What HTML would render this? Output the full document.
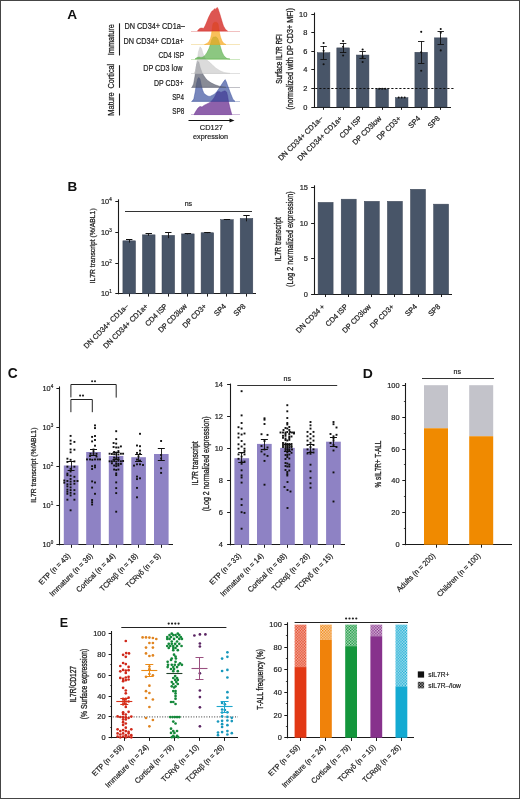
<!DOCTYPE html>
<html><head><meta charset="utf-8"><style>
html,body{margin:0;padding:0;background:#fff;}
body{width:520px;height:799px;overflow:hidden;}
svg{display:block;will-change:transform;filter:blur(0.3px);}
text{font-family:"Liberation Sans", sans-serif;}
</style></head><body>
<svg width="520" height="799" viewBox="0 0 520 799">
<rect x="0" y="0" width="520" height="799" fill="#fff"/>
<defs><pattern id="chk0" width="2.8" height="2.8" patternUnits="userSpaceOnUse"><rect width="2.8" height="2.8" fill="#f6c3b8"/><rect width="1.4" height="1.4" fill="#e23814"/><rect x="1.4" y="1.4" width="1.4" height="1.4" fill="#e23814"/></pattern><pattern id="chk1" width="2.8" height="2.8" patternUnits="userSpaceOnUse"><rect width="2.8" height="2.8" fill="#fadab6"/><rect width="1.4" height="1.4" fill="#f0820a"/><rect x="1.4" y="1.4" width="1.4" height="1.4" fill="#f0820a"/></pattern><pattern id="chk2" width="2.8" height="2.8" patternUnits="userSpaceOnUse"><rect width="2.8" height="2.8" fill="#b8e0c4"/><rect width="1.4" height="1.4" fill="#14963c"/><rect x="1.4" y="1.4" width="1.4" height="1.4" fill="#14963c"/></pattern><pattern id="chk3" width="2.8" height="2.8" patternUnits="userSpaceOnUse"><rect width="2.8" height="2.8" fill="#dbc2dc"/><rect width="1.4" height="1.4" fill="#87328c"/><rect x="1.4" y="1.4" width="1.4" height="1.4" fill="#87328c"/></pattern><pattern id="chk4" width="2.8" height="2.8" patternUnits="userSpaceOnUse"><rect width="2.8" height="2.8" fill="#b8e6f2"/><rect width="1.4" height="1.4" fill="#14aad2"/><rect x="1.4" y="1.4" width="1.4" height="1.4" fill="#14aad2"/></pattern><pattern id="chkk" width="2.8" height="2.8" patternUnits="userSpaceOnUse"><rect width="2.8" height="2.8" fill="#a0a0a0"/><rect width="1.4" height="1.4" fill="#111111"/><rect x="1.4" y="1.4" width="1.4" height="1.4" fill="#111111"/></pattern></defs>
<text x="0" y="0" font-size="12.2" font-weight="bold" fill="#111" transform="translate(67.20 18.60) scale(1.12 1)">A</text>
<text x="0" y="0" font-size="8.3" text-anchor="start" fill="#222222" stroke="#222222" stroke-width="0.2" transform="translate(124.50 29.00) scale(0.8825 1)">DN CD34+ CD1a&#8211;</text>
<text x="0" y="0" font-size="8.3" text-anchor="start" fill="#222222" stroke="#222222" stroke-width="0.2" transform="translate(123.50 43.60) scale(0.8774 1)">DN CD34+ CD1a+</text>
<text x="0" y="0" font-size="8.3" text-anchor="start" fill="#222222" stroke="#222222" stroke-width="0.2" transform="translate(158.60 57.60) scale(0.7898 1)">CD4 ISP</text>
<text x="0" y="0" font-size="8.3" text-anchor="start" fill="#222222" stroke="#222222" stroke-width="0.2" transform="translate(143.20 71.30) scale(0.8726 1)">DP CD3 low</text>
<text x="0" y="0" font-size="8.3" text-anchor="start" fill="#222222" stroke="#222222" stroke-width="0.2" transform="translate(154.10 86.00) scale(0.8374 1)">DP CD3+</text>
<text x="0" y="0" font-size="8.3" text-anchor="start" fill="#222222" stroke="#222222" stroke-width="0.2" transform="translate(172.20 99.60) scale(0.7522 1)">SP4</text>
<text x="0" y="0" font-size="8.3" text-anchor="start" fill="#222222" stroke="#222222" stroke-width="0.2" transform="translate(172.20 114.10) scale(0.7713 1)">SP8</text>
<line x1="119.50" y1="23.30" x2="119.50" y2="55.50" stroke="#1a1a1a" stroke-width="1.1"/>
<line x1="119.50" y1="65.20" x2="119.50" y2="87.80" stroke="#1a1a1a" stroke-width="1.1"/>
<line x1="119.50" y1="93.50" x2="119.50" y2="115.50" stroke="#1a1a1a" stroke-width="1.1"/>
<text x="0" y="0" font-size="8.4" text-anchor="start" fill="#222222" stroke="#222222" stroke-width="0.263" transform="translate(113.90 55.20) rotate(-90) scale(0.8745 1)">Immature</text>
<text x="0" y="0" font-size="8.4" text-anchor="start" fill="#222222" stroke="#222222" stroke-width="0.268" transform="translate(113.90 88.40) rotate(-90) scale(0.8639 1)">Cortical</text>
<text x="0" y="0" font-size="8.4" text-anchor="start" fill="#222222" stroke="#222222" stroke-width="0.25" transform="translate(113.90 115.80) rotate(-90) scale(0.8996 1)">Mature</text>
<line x1="191.00" y1="31.50" x2="240.00" y2="31.50" stroke="#eeb0b0" stroke-width="0.8"/>
<line x1="191.00" y1="44.50" x2="240.00" y2="44.50" stroke="#f4e0a8" stroke-width="0.8"/>
<line x1="191.00" y1="59.50" x2="240.00" y2="59.50" stroke="#c0e2b0" stroke-width="0.8"/>
<line x1="191.00" y1="73.50" x2="240.00" y2="73.50" stroke="#d8d8d8" stroke-width="0.8"/>
<line x1="191.00" y1="87.50" x2="240.00" y2="87.50" stroke="#b0b0b8" stroke-width="0.8"/>
<line x1="191.00" y1="101.50" x2="240.00" y2="101.50" stroke="#a8b4d0" stroke-width="0.8"/>
<line x1="191.00" y1="114.50" x2="240.00" y2="114.50" stroke="#c0a8d0" stroke-width="0.8"/>
<path d="M194.00,114.60 L194.00,114.60 L196.00,111.00 L198.00,108.00 L200.00,106.40 L202.00,107.00 L204.00,105.40 L206.00,104.40 L208.00,103.40 L210.00,102.40 L212.00,100.40 L214.00,98.00 L215.60,95.00 L217.00,92.00 L219.00,91.40 L221.00,92.40 L223.00,91.40 L225.00,90.80 L226.60,92.00 L227.60,96.00 L228.60,102.00 L230.00,108.00 L231.80,114.60 L231.80,114.60 Z" fill="#5e1e88" fill-opacity="0.7" stroke="#5e1e88" stroke-opacity="0.85" stroke-width="0.5" stroke-linejoin="round"/>
<path d="M192.00,101.30 L192.00,101.30 L193.80,99.00 L195.20,92.00 L196.40,84.00 L197.60,79.00 L198.80,77.40 L200.00,79.00 L201.00,84.00 L202.50,90.00 L204.00,93.40 L206.00,95.00 L208.00,96.20 L210.00,96.40 L212.00,95.40 L214.00,94.40 L216.00,92.80 L218.00,90.00 L220.00,87.00 L222.00,84.00 L223.60,81.60 L225.20,79.60 L226.40,82.00 L227.40,85.00 L228.60,88.00 L230.00,92.00 L231.60,96.00 L233.00,99.40 L235.00,101.30 L235.00,101.30 Z" fill="#30489a" fill-opacity="0.66" stroke="#30489a" stroke-opacity="0.85" stroke-width="0.5" stroke-linejoin="round"/>
<path d="M192.00,87.30 L192.00,87.30 L193.60,84.00 L195.00,76.00 L196.20,67.00 L197.40,61.20 L198.80,62.00 L200.20,67.50 L202.00,72.50 L204.00,76.00 L206.00,78.80 L208.00,80.80 L211.00,82.80 L215.00,84.80 L220.00,86.40 L226.00,87.30 L226.00,87.30 Z" fill="#555a6a" fill-opacity="0.7" stroke="#555a6a" stroke-opacity="0.85" stroke-width="0.5" stroke-linejoin="round"/>
<path d="M194.00,73.40 L194.00,73.40 L195.80,70.00 L197.10,62.00 L198.40,52.00 L200.10,46.80 L201.60,48.80 L202.80,53.00 L204.00,56.00 L205.00,58.40 L207.50,60.60 L210.00,62.60 L213.00,65.60 L216.00,68.20 L220.00,70.80 L224.00,72.40 L230.00,73.40 L230.00,73.40 Z" fill="#c8c8c8" fill-opacity="0.66" stroke="#c8c8c8" stroke-opacity="0.85" stroke-width="0.5" stroke-linejoin="round"/>
<path d="M195.00,59.00 L195.00,59.00 L197.00,57.60 L199.00,57.00 L201.00,57.40 L203.00,57.00 L205.00,55.40 L207.00,52.50 L209.00,48.50 L210.50,44.00 L211.80,39.50 L213.00,37.20 L216.00,36.80 L217.80,38.50 L219.00,42.00 L220.50,47.00 L222.00,52.00 L224.00,56.00 L227.00,58.60 L230.00,59.00 L230.00,59.00 Z" fill="#50aa40" fill-opacity="0.66" stroke="#50aa40" stroke-opacity="0.85" stroke-width="0.5" stroke-linejoin="round"/>
<path d="M204.50,44.50 L204.50,44.50 L207.00,43.50 L209.00,41.40 L210.50,38.50 L211.50,34.00 L212.30,28.00 L213.00,23.50 L214.50,22.20 L216.50,22.20 L218.00,23.50 L218.80,28.00 L219.60,33.00 L220.50,37.00 L222.00,41.00 L224.00,43.50 L226.00,44.50 L226.00,44.50 Z" fill="#f7a81c" fill-opacity="0.72" stroke="#f7a81c" stroke-opacity="0.85" stroke-width="0.5" stroke-linejoin="round"/>
<path d="M197.50,31.00 L197.50,31.00 L198.50,29.60 L200.00,28.30 L202.00,28.00 L203.50,28.60 L205.00,26.00 L206.30,23.00 L207.50,20.00 L208.60,17.30 L210.00,14.50 L211.20,12.20 L212.10,11.00 L213.20,10.60 L214.40,8.70 L215.20,9.40 L215.80,8.60 L216.60,8.20 L217.30,7.40 L218.20,9.00 L219.00,11.50 L220.00,14.50 L220.80,17.30 L222.50,23.00 L223.50,26.00 L224.80,28.30 L226.00,30.00 L227.50,31.00 L227.50,31.00 Z" fill="#d42a26" fill-opacity="0.8" stroke="#d42a26" stroke-opacity="0.85" stroke-width="0.5" stroke-linejoin="round"/>
<line x1="188.50" y1="120.50" x2="230.50" y2="120.50" stroke="#111" stroke-width="1.1"/>
<path d="M229.50,118.40 L234.50,120.50 L229.50,122.60 Z" fill="#111" stroke="none" stroke-width="0.6" fill-opacity="1" stroke-linejoin="round"/>
<text x="0" y="0" font-size="8.0" text-anchor="middle" fill="#222222" stroke="#222222" stroke-width="0.2" transform="translate(211.40 130.40) scale(0.93 1)">CD127</text>
<text x="0" y="0" font-size="7.9" text-anchor="middle" fill="#222222" stroke="#222222" stroke-width="0.2" transform="translate(210.60 138.60) scale(0.92 1)">expression</text>
<line x1="314.50" y1="12.50" x2="314.50" y2="107.50" stroke="#1a1a1a" stroke-width="1.1"/>
<line x1="313.80" y1="107.50" x2="451.00" y2="107.50" stroke="#1a1a1a" stroke-width="1.1"/>
<line x1="311.30" y1="107.50" x2="314.30" y2="107.50" stroke="#1a1a1a" stroke-width="1"/>
<text x="0" y="0" font-size="7.7" text-anchor="end" fill="#222222" stroke="#222222" stroke-width="0.2" transform="translate(307.40 109.50) scale(0.97 1)">0</text>
<line x1="311.30" y1="88.50" x2="314.30" y2="88.50" stroke="#1a1a1a" stroke-width="1"/>
<text x="0" y="0" font-size="7.7" text-anchor="end" fill="#222222" stroke="#222222" stroke-width="0.2" transform="translate(307.40 90.94) scale(0.97 1)">2</text>
<line x1="311.30" y1="69.50" x2="314.30" y2="69.50" stroke="#1a1a1a" stroke-width="1"/>
<text x="0" y="0" font-size="7.7" text-anchor="end" fill="#222222" stroke="#222222" stroke-width="0.2" transform="translate(307.40 72.38) scale(0.97 1)">4</text>
<line x1="311.30" y1="51.50" x2="314.30" y2="51.50" stroke="#1a1a1a" stroke-width="1"/>
<text x="0" y="0" font-size="7.7" text-anchor="end" fill="#222222" stroke="#222222" stroke-width="0.2" transform="translate(307.40 53.82) scale(0.97 1)">6</text>
<line x1="311.30" y1="32.50" x2="314.30" y2="32.50" stroke="#1a1a1a" stroke-width="1"/>
<text x="0" y="0" font-size="7.7" text-anchor="end" fill="#222222" stroke="#222222" stroke-width="0.2" transform="translate(307.40 35.26) scale(0.97 1)">8</text>
<line x1="311.30" y1="14.50" x2="314.30" y2="14.50" stroke="#1a1a1a" stroke-width="1"/>
<text x="0" y="0" font-size="7.7" text-anchor="end" fill="#222222" stroke="#222222" stroke-width="0.2" transform="translate(307.40 16.70) scale(0.97 1)">10</text>
<rect x="317.30" y="52.71" width="12.60" height="54.29" fill="#485568" stroke="#3a4454" stroke-width="0.5"/>
<line x1="323.50" y1="107.00" x2="323.50" y2="109.80" stroke="#1a1a1a" stroke-width="1"/>
<line x1="323.50" y1="59.21" x2="323.50" y2="46.22" stroke="#111" stroke-width="0.9"/>
<line x1="320.40" y1="46.50" x2="326.80" y2="46.50" stroke="#111" stroke-width="0.9"/>
<line x1="320.40" y1="59.50" x2="326.80" y2="59.50" stroke="#111" stroke-width="0.9"/>
<circle cx="323.60" cy="42.97" r="1.05" fill="#111"/>
<circle cx="323.60" cy="50.86" r="1.05" fill="#111"/>
<circle cx="323.60" cy="64.31" r="1.05" fill="#111"/>
<rect x="336.82" y="47.89" width="12.60" height="59.11" fill="#485568" stroke="#3a4454" stroke-width="0.5"/>
<line x1="343.50" y1="107.00" x2="343.50" y2="109.80" stroke="#1a1a1a" stroke-width="1"/>
<line x1="343.50" y1="52.53" x2="343.50" y2="43.25" stroke="#111" stroke-width="0.9"/>
<line x1="339.92" y1="43.50" x2="346.32" y2="43.50" stroke="#111" stroke-width="0.9"/>
<line x1="339.92" y1="52.50" x2="346.32" y2="52.50" stroke="#111" stroke-width="0.9"/>
<circle cx="343.12" cy="41.11" r="1.05" fill="#111"/>
<circle cx="343.12" cy="46.68" r="1.05" fill="#111"/>
<circle cx="343.12" cy="55.50" r="1.05" fill="#111"/>
<rect x="356.34" y="55.03" width="12.60" height="51.97" fill="#485568" stroke="#3a4454" stroke-width="0.5"/>
<line x1="362.50" y1="107.00" x2="362.50" y2="109.80" stroke="#1a1a1a" stroke-width="1"/>
<line x1="362.50" y1="58.74" x2="362.50" y2="51.32" stroke="#111" stroke-width="0.9"/>
<line x1="359.44" y1="51.50" x2="365.84" y2="51.50" stroke="#111" stroke-width="0.9"/>
<line x1="359.44" y1="58.50" x2="365.84" y2="58.50" stroke="#111" stroke-width="0.9"/>
<circle cx="362.64" cy="49.46" r="1.05" fill="#111"/>
<circle cx="362.64" cy="56.89" r="1.05" fill="#111"/>
<circle cx="362.64" cy="61.99" r="1.05" fill="#111"/>
<rect x="375.86" y="88.90" width="12.60" height="18.10" fill="#485568" stroke="#3a4454" stroke-width="0.5"/>
<line x1="382.50" y1="107.00" x2="382.50" y2="109.80" stroke="#1a1a1a" stroke-width="1"/>
<circle cx="379.16" cy="88.72" r="1.0" fill="#111"/>
<circle cx="382.16" cy="88.72" r="1.0" fill="#111"/>
<circle cx="385.16" cy="88.72" r="1.0" fill="#111"/>
<rect x="395.38" y="97.72" width="12.60" height="9.28" fill="#485568" stroke="#3a4454" stroke-width="0.5"/>
<line x1="401.50" y1="107.00" x2="401.50" y2="109.80" stroke="#1a1a1a" stroke-width="1"/>
<circle cx="398.68" cy="97.53" r="1.0" fill="#111"/>
<circle cx="401.68" cy="97.53" r="1.0" fill="#111"/>
<circle cx="404.68" cy="97.53" r="1.0" fill="#111"/>
<rect x="414.90" y="52.25" width="12.60" height="54.75" fill="#485568" stroke="#3a4454" stroke-width="0.5"/>
<line x1="421.50" y1="107.00" x2="421.50" y2="109.80" stroke="#1a1a1a" stroke-width="1"/>
<line x1="421.50" y1="63.38" x2="421.50" y2="41.11" stroke="#111" stroke-width="0.9"/>
<line x1="418.00" y1="41.50" x2="424.40" y2="41.50" stroke="#111" stroke-width="0.9"/>
<line x1="418.00" y1="63.50" x2="424.40" y2="63.50" stroke="#111" stroke-width="0.9"/>
<circle cx="421.20" cy="31.83" r="1.05" fill="#111"/>
<circle cx="421.20" cy="52.25" r="1.05" fill="#111"/>
<circle cx="421.20" cy="70.81" r="1.05" fill="#111"/>
<rect x="434.42" y="37.86" width="12.60" height="69.14" fill="#485568" stroke="#3a4454" stroke-width="0.5"/>
<line x1="440.50" y1="107.00" x2="440.50" y2="109.80" stroke="#1a1a1a" stroke-width="1"/>
<line x1="440.50" y1="44.36" x2="440.50" y2="31.37" stroke="#111" stroke-width="0.9"/>
<line x1="437.52" y1="31.50" x2="443.92" y2="31.50" stroke="#111" stroke-width="0.9"/>
<line x1="437.52" y1="44.50" x2="443.92" y2="44.50" stroke="#111" stroke-width="0.9"/>
<circle cx="440.72" cy="29.05" r="1.05" fill="#111"/>
<circle cx="440.72" cy="32.76" r="1.05" fill="#111"/>
<circle cx="440.72" cy="50.39" r="1.05" fill="#111"/>
<line x1="315.3" y1="88.5" x2="455" y2="88.5" stroke="#111" stroke-width="1" stroke-dasharray="2.2,1.8"/>
<text x="0" y="0" font-size="7.6" text-anchor="end" fill="#222222" stroke="#222222" stroke-width="0.2" transform="translate(323.30 119.00) rotate(-45) scale(0.95 1)">DN CD34+ CD1a&#8211;</text>
<text x="0" y="0" font-size="7.6" text-anchor="end" fill="#222222" stroke="#222222" stroke-width="0.2" transform="translate(342.82 119.00) rotate(-45) scale(0.95 1)">DN CD34+ CD1a+</text>
<text x="0" y="0" font-size="7.6" text-anchor="end" fill="#222222" stroke="#222222" stroke-width="0.2" transform="translate(362.34 119.00) rotate(-45) scale(0.95 1)">CD4 ISP</text>
<text x="0" y="0" font-size="7.6" text-anchor="end" fill="#222222" stroke="#222222" stroke-width="0.2" transform="translate(381.86 119.00) rotate(-45) scale(0.95 1)">DP CD3low</text>
<text x="0" y="0" font-size="7.6" text-anchor="end" fill="#222222" stroke="#222222" stroke-width="0.2" transform="translate(401.38 119.00) rotate(-45) scale(0.95 1)">DP CD3+</text>
<text x="0" y="0" font-size="7.6" text-anchor="end" fill="#222222" stroke="#222222" stroke-width="0.2" transform="translate(420.90 119.00) rotate(-45) scale(0.95 1)">SP4</text>
<text x="0" y="0" font-size="7.6" text-anchor="end" fill="#222222" stroke="#222222" stroke-width="0.2" transform="translate(440.42 119.00) rotate(-45) scale(0.95 1)">SP8</text>
<text x="0" y="0" font-size="8.8" text-anchor="start" fill="#222222" stroke="#222222" stroke-width="0.336" transform="translate(282.00 83.70) rotate(-90) scale(0.7272 1)">Surface IL7R RFI</text>
<text x="0" y="0" font-size="8.6" text-anchor="start" fill="#222222" stroke="#222222" stroke-width="0.28" transform="translate(293.00 109.70) rotate(-90) scale(0.8392 1)">(normalized with DP CD3+ MFI)</text>
<text x="0" y="0" font-size="12.5" font-weight="bold" fill="#111" transform="translate(67.60 190.60) scale(1.08 1)">B</text>
<line x1="118.50" y1="199.30" x2="118.50" y2="294.30" stroke="#1a1a1a" stroke-width="1.1"/>
<line x1="118.30" y1="293.50" x2="256.00" y2="293.50" stroke="#1a1a1a" stroke-width="1.1"/>
<line x1="115.30" y1="293.50" x2="118.80" y2="293.50" stroke="#1a1a1a" stroke-width="1"/>
<text x="0" y="0" font-size="7.6" text-anchor="end" fill="#222222" stroke="#222222" stroke-width="0.2" transform="translate(111.70 296.40) scale(0.97 1)">10<tspan font-size="4.71" dy="-3">1</tspan></text>
<line x1="115.30" y1="263.50" x2="118.80" y2="263.50" stroke="#1a1a1a" stroke-width="1"/>
<text x="0" y="0" font-size="7.6" text-anchor="end" fill="#222222" stroke="#222222" stroke-width="0.2" transform="translate(111.70 265.60) scale(0.97 1)">10<tspan font-size="4.71" dy="-3">2</tspan></text>
<line x1="115.30" y1="232.50" x2="118.80" y2="232.50" stroke="#1a1a1a" stroke-width="1"/>
<text x="0" y="0" font-size="7.6" text-anchor="end" fill="#222222" stroke="#222222" stroke-width="0.2" transform="translate(111.70 234.80) scale(0.97 1)">10<tspan font-size="4.71" dy="-3">3</tspan></text>
<line x1="115.30" y1="201.50" x2="118.80" y2="201.50" stroke="#1a1a1a" stroke-width="1"/>
<text x="0" y="0" font-size="7.6" text-anchor="end" fill="#222222" stroke="#222222" stroke-width="0.2" transform="translate(111.70 204.00) scale(0.97 1)">10<tspan font-size="4.71" dy="-3">4</tspan></text>
<rect x="122.90" y="240.82" width="12.60" height="52.98" fill="#485568" stroke="#3a4454" stroke-width="0.5"/>
<line x1="129.50" y1="293.80" x2="129.50" y2="296.60" stroke="#1a1a1a" stroke-width="1"/>
<line x1="129.50" y1="242.59" x2="129.50" y2="239.72" stroke="#111" stroke-width="0.9"/>
<line x1="126.00" y1="239.50" x2="132.40" y2="239.50" stroke="#111" stroke-width="1.0"/>
<rect x="142.45" y="234.85" width="12.60" height="58.95" fill="#485568" stroke="#3a4454" stroke-width="0.5"/>
<line x1="148.50" y1="293.80" x2="148.50" y2="296.60" stroke="#1a1a1a" stroke-width="1"/>
<line x1="148.50" y1="235.70" x2="148.50" y2="233.91" stroke="#111" stroke-width="0.9"/>
<line x1="145.55" y1="233.50" x2="151.95" y2="233.50" stroke="#111" stroke-width="1.0"/>
<rect x="162.00" y="235.35" width="12.60" height="58.45" fill="#485568" stroke="#3a4454" stroke-width="0.5"/>
<line x1="168.50" y1="293.80" x2="168.50" y2="296.60" stroke="#1a1a1a" stroke-width="1"/>
<line x1="168.50" y1="238.17" x2="168.50" y2="232.20" stroke="#111" stroke-width="0.9"/>
<line x1="165.10" y1="232.50" x2="171.50" y2="232.50" stroke="#111" stroke-width="1.0"/>
<rect x="181.55" y="233.91" width="12.60" height="59.89" fill="#485568" stroke="#3a4454" stroke-width="0.5"/>
<line x1="187.50" y1="293.80" x2="187.50" y2="296.60" stroke="#1a1a1a" stroke-width="1"/>
<line x1="187.50" y1="234.37" x2="187.50" y2="233.54" stroke="#111" stroke-width="0.9"/>
<line x1="184.65" y1="233.50" x2="191.05" y2="233.50" stroke="#111" stroke-width="1.0"/>
<rect x="201.10" y="232.75" width="12.60" height="61.05" fill="#485568" stroke="#3a4454" stroke-width="0.5"/>
<line x1="207.50" y1="293.80" x2="207.50" y2="296.60" stroke="#1a1a1a" stroke-width="1"/>
<line x1="207.50" y1="233.17" x2="207.50" y2="232.40" stroke="#111" stroke-width="0.9"/>
<line x1="204.20" y1="232.50" x2="210.60" y2="232.50" stroke="#111" stroke-width="1.0"/>
<rect x="220.65" y="219.68" width="12.60" height="74.12" fill="#485568" stroke="#3a4454" stroke-width="0.5"/>
<line x1="226.50" y1="293.80" x2="226.50" y2="296.60" stroke="#1a1a1a" stroke-width="1"/>
<line x1="226.50" y1="220.05" x2="226.50" y2="219.32" stroke="#111" stroke-width="0.9"/>
<line x1="223.75" y1="219.50" x2="230.15" y2="219.50" stroke="#111" stroke-width="1.0"/>
<rect x="240.20" y="218.43" width="12.60" height="75.37" fill="#485568" stroke="#3a4454" stroke-width="0.5"/>
<line x1="246.50" y1="293.80" x2="246.50" y2="296.60" stroke="#1a1a1a" stroke-width="1"/>
<line x1="246.50" y1="221.35" x2="246.50" y2="215.64" stroke="#111" stroke-width="0.9"/>
<line x1="243.30" y1="215.50" x2="249.70" y2="215.50" stroke="#111" stroke-width="1.0"/>
<line x1="125.00" y1="211.50" x2="252.00" y2="211.50" stroke="#333" stroke-width="1.1"/>
<text x="0" y="0" font-size="7" text-anchor="middle" fill="#222222" stroke="#222222" stroke-width="0.2" transform="translate(188.40 206.20)">ns</text>
<text x="0" y="0" font-size="7.6" text-anchor="end" fill="#222222" stroke="#222222" stroke-width="0.2" transform="translate(128.90 306.80) rotate(-45) scale(0.95 1)">DN CD34+ CD1a&#8211;</text>
<text x="0" y="0" font-size="7.6" text-anchor="end" fill="#222222" stroke="#222222" stroke-width="0.2" transform="translate(148.45 306.80) rotate(-45) scale(0.95 1)">DN CD34+ CD1a+</text>
<text x="0" y="0" font-size="7.6" text-anchor="end" fill="#222222" stroke="#222222" stroke-width="0.2" transform="translate(168.00 306.80) rotate(-45) scale(0.95 1)">CD4 ISP</text>
<text x="0" y="0" font-size="7.6" text-anchor="end" fill="#222222" stroke="#222222" stroke-width="0.2" transform="translate(187.55 306.80) rotate(-45) scale(0.95 1)">DP CD3low</text>
<text x="0" y="0" font-size="7.6" text-anchor="end" fill="#222222" stroke="#222222" stroke-width="0.2" transform="translate(207.10 306.80) rotate(-45) scale(0.95 1)">DP CD3+</text>
<text x="0" y="0" font-size="7.6" text-anchor="end" fill="#222222" stroke="#222222" stroke-width="0.2" transform="translate(226.65 306.80) rotate(-45) scale(0.95 1)">SP4</text>
<text x="0" y="0" font-size="7.6" text-anchor="end" fill="#222222" stroke="#222222" stroke-width="0.2" transform="translate(246.20 306.80) rotate(-45) scale(0.95 1)">SP8</text>
<text x="0" y="0" font-size="7.9" text-anchor="start" fill="#222222" stroke="#222222" stroke-width="0.269" transform="translate(95.00 283.50) rotate(-90) scale(0.8618 1)">IL7R transcript (%/ABL1)</text>
<line x1="314.50" y1="185.30" x2="314.50" y2="294.70" stroke="#1a1a1a" stroke-width="1.1"/>
<line x1="314.10" y1="294.50" x2="452.00" y2="294.50" stroke="#1a1a1a" stroke-width="1.1"/>
<line x1="311.10" y1="294.50" x2="314.60" y2="294.50" stroke="#1a1a1a" stroke-width="1"/>
<text x="0" y="0" font-size="7.7" text-anchor="end" fill="#222222" stroke="#222222" stroke-width="0.2" transform="translate(308.00 296.70) scale(0.97 1)">0</text>
<line x1="311.10" y1="258.50" x2="314.60" y2="258.50" stroke="#1a1a1a" stroke-width="1"/>
<text x="0" y="0" font-size="7.7" text-anchor="end" fill="#222222" stroke="#222222" stroke-width="0.2" transform="translate(308.00 261.25) scale(0.97 1)">5</text>
<line x1="311.10" y1="223.50" x2="314.60" y2="223.50" stroke="#1a1a1a" stroke-width="1"/>
<text x="0" y="0" font-size="7.7" text-anchor="end" fill="#222222" stroke="#222222" stroke-width="0.2" transform="translate(308.00 225.80) scale(0.97 1)">10</text>
<line x1="311.10" y1="187.50" x2="314.60" y2="187.50" stroke="#1a1a1a" stroke-width="1"/>
<text x="0" y="0" font-size="7.7" text-anchor="end" fill="#222222" stroke="#222222" stroke-width="0.2" transform="translate(308.00 190.35) scale(0.97 1)">15</text>
<rect x="318.10" y="202.38" width="15.00" height="91.82" fill="#485568" stroke="#3a4454" stroke-width="0.5"/>
<line x1="325.50" y1="294.20" x2="325.50" y2="297.00" stroke="#1a1a1a" stroke-width="1"/>
<rect x="341.20" y="199.19" width="15.00" height="95.01" fill="#485568" stroke="#3a4454" stroke-width="0.5"/>
<line x1="348.50" y1="294.20" x2="348.50" y2="297.00" stroke="#1a1a1a" stroke-width="1"/>
<rect x="364.30" y="201.32" width="15.00" height="92.88" fill="#485568" stroke="#3a4454" stroke-width="0.5"/>
<line x1="371.50" y1="294.20" x2="371.50" y2="297.00" stroke="#1a1a1a" stroke-width="1"/>
<rect x="387.40" y="201.32" width="15.00" height="92.88" fill="#485568" stroke="#3a4454" stroke-width="0.5"/>
<line x1="394.50" y1="294.20" x2="394.50" y2="297.00" stroke="#1a1a1a" stroke-width="1"/>
<rect x="410.50" y="189.27" width="15.00" height="104.93" fill="#485568" stroke="#3a4454" stroke-width="0.5"/>
<line x1="418.50" y1="294.20" x2="418.50" y2="297.00" stroke="#1a1a1a" stroke-width="1"/>
<rect x="433.60" y="204.16" width="15.00" height="90.04" fill="#485568" stroke="#3a4454" stroke-width="0.5"/>
<line x1="441.50" y1="294.20" x2="441.50" y2="297.00" stroke="#1a1a1a" stroke-width="1"/>
<text x="0" y="0" font-size="7.6" text-anchor="end" fill="#222222" stroke="#222222" stroke-width="0.2" transform="translate(325.30 307.20) rotate(-45) scale(0.95 1)">DN CD34 +</text>
<text x="0" y="0" font-size="7.6" text-anchor="end" fill="#222222" stroke="#222222" stroke-width="0.2" transform="translate(348.40 307.20) rotate(-45) scale(0.95 1)">CD4 ISP</text>
<text x="0" y="0" font-size="7.6" text-anchor="end" fill="#222222" stroke="#222222" stroke-width="0.2" transform="translate(371.50 307.20) rotate(-45) scale(0.95 1)">DP CD3low</text>
<text x="0" y="0" font-size="7.6" text-anchor="end" fill="#222222" stroke="#222222" stroke-width="0.2" transform="translate(394.60 307.20) rotate(-45) scale(0.95 1)">DP CD3+</text>
<text x="0" y="0" font-size="7.6" text-anchor="end" fill="#222222" stroke="#222222" stroke-width="0.2" transform="translate(417.70 307.20) rotate(-45) scale(0.95 1)">SP4</text>
<text x="0" y="0" font-size="7.6" text-anchor="end" fill="#222222" stroke="#222222" stroke-width="0.2" transform="translate(440.80 307.20) rotate(-45) scale(0.95 1)">SP8</text>
<text x="0" y="0" font-size="8.7" text-anchor="start" fill="#222222" stroke="#222222" stroke-width="0.309" transform="translate(281.30 261.20) rotate(-90) scale(0.7816 1)">IL7R transcript</text>
<text x="0" y="0" font-size="8.7" text-anchor="start" fill="#222222" stroke="#222222" stroke-width="0.292" transform="translate(292.70 286.90) rotate(-90) scale(0.8161 1)">(Log 2 normalized expression)</text>
<text x="0" y="0" font-size="14.2" font-weight="bold" fill="#111" transform="translate(7.70 378.40) scale(0.97 1)">C</text>
<line x1="59.50" y1="386.40" x2="59.50" y2="545.30" stroke="#1a1a1a" stroke-width="1.1"/>
<line x1="59.10" y1="544.50" x2="173.00" y2="544.50" stroke="#1a1a1a" stroke-width="1.1"/>
<line x1="56.40" y1="544.50" x2="59.60" y2="544.50" stroke="#1a1a1a" stroke-width="1"/>
<text x="0" y="0" font-size="7.6" text-anchor="end" fill="#222222" stroke="#222222" stroke-width="0.2" transform="translate(53.20 547.20) scale(0.97 1)">10<tspan font-size="4.71" dy="-3">0</tspan></text>
<line x1="56.40" y1="505.50" x2="59.60" y2="505.50" stroke="#1a1a1a" stroke-width="1"/>
<text x="0" y="0" font-size="7.6" text-anchor="end" fill="#222222" stroke="#222222" stroke-width="0.2" transform="translate(53.20 508.20) scale(0.97 1)">10<tspan font-size="4.71" dy="-3">1</tspan></text>
<line x1="56.40" y1="466.50" x2="59.60" y2="466.50" stroke="#1a1a1a" stroke-width="1"/>
<text x="0" y="0" font-size="7.6" text-anchor="end" fill="#222222" stroke="#222222" stroke-width="0.2" transform="translate(53.20 469.20) scale(0.97 1)">10<tspan font-size="4.71" dy="-3">2</tspan></text>
<line x1="56.40" y1="427.50" x2="59.60" y2="427.50" stroke="#1a1a1a" stroke-width="1"/>
<text x="0" y="0" font-size="7.6" text-anchor="end" fill="#222222" stroke="#222222" stroke-width="0.2" transform="translate(53.20 430.20) scale(0.97 1)">10<tspan font-size="4.71" dy="-3">3</tspan></text>
<line x1="56.40" y1="388.50" x2="59.60" y2="388.50" stroke="#1a1a1a" stroke-width="1"/>
<text x="0" y="0" font-size="7.6" text-anchor="end" fill="#222222" stroke="#222222" stroke-width="0.2" transform="translate(53.20 391.20) scale(0.97 1)">10<tspan font-size="4.71" dy="-3">4</tspan></text>
<rect x="63.80" y="465.50" width="14.60" height="79.30" fill="#8e82c4"/>
<line x1="71.50" y1="544.80" x2="71.50" y2="547.80" stroke="#1a1a1a" stroke-width="1"/>
<rect x="86.20" y="452.00" width="14.60" height="92.80" fill="#8e82c4"/>
<line x1="93.50" y1="544.80" x2="93.50" y2="547.80" stroke="#1a1a1a" stroke-width="1"/>
<rect x="108.80" y="455.90" width="14.60" height="88.90" fill="#8e82c4"/>
<line x1="116.50" y1="544.80" x2="116.50" y2="547.80" stroke="#1a1a1a" stroke-width="1"/>
<rect x="131.30" y="457.20" width="14.60" height="87.60" fill="#8e82c4"/>
<line x1="138.50" y1="544.80" x2="138.50" y2="547.80" stroke="#1a1a1a" stroke-width="1"/>
<rect x="154.00" y="454.00" width="14.60" height="90.80" fill="#8e82c4"/>
<line x1="161.50" y1="544.80" x2="161.50" y2="547.80" stroke="#1a1a1a" stroke-width="1"/>
<rect x="69.65" y="434.95" width="1.9" height="1.9" fill="#111"/>
<rect x="69.65" y="439.65" width="1.9" height="1.9" fill="#111"/>
<rect x="73.45" y="440.95" width="1.9" height="1.9" fill="#111"/>
<rect x="69.65" y="442.85" width="1.9" height="1.9" fill="#111"/>
<rect x="69.65" y="448.55" width="1.9" height="1.9" fill="#111"/>
<rect x="73.45" y="448.75" width="1.9" height="1.9" fill="#111"/>
<rect x="69.65" y="451.35" width="1.9" height="1.9" fill="#111"/>
<rect x="66.45" y="457.75" width="1.9" height="1.9" fill="#111"/>
<rect x="69.65" y="458.85" width="1.9" height="1.9" fill="#111"/>
<rect x="73.45" y="460.45" width="1.9" height="1.9" fill="#111"/>
<rect x="66.45" y="460.95" width="1.9" height="1.9" fill="#111"/>
<rect x="66.45" y="465.75" width="1.9" height="1.9" fill="#111"/>
<rect x="73.45" y="465.75" width="1.9" height="1.9" fill="#111"/>
<rect x="69.65" y="467.85" width="1.9" height="1.9" fill="#111"/>
<rect x="69.65" y="470.55" width="1.9" height="1.9" fill="#111"/>
<rect x="66.45" y="472.65" width="1.9" height="1.9" fill="#111"/>
<rect x="66.45" y="474.25" width="1.9" height="1.9" fill="#111"/>
<rect x="69.65" y="474.75" width="1.9" height="1.9" fill="#111"/>
<rect x="73.45" y="475.85" width="1.9" height="1.9" fill="#111"/>
<rect x="69.65" y="478.05" width="1.9" height="1.9" fill="#111"/>
<rect x="63.35" y="479.55" width="1.9" height="1.9" fill="#111"/>
<rect x="66.45" y="480.05" width="1.9" height="1.9" fill="#111"/>
<rect x="69.65" y="480.65" width="1.9" height="1.9" fill="#111"/>
<rect x="73.45" y="480.05" width="1.9" height="1.9" fill="#111"/>
<rect x="76.55" y="480.05" width="1.9" height="1.9" fill="#111"/>
<rect x="63.35" y="481.75" width="1.9" height="1.9" fill="#111"/>
<rect x="66.45" y="483.35" width="1.9" height="1.9" fill="#111"/>
<rect x="69.65" y="483.35" width="1.9" height="1.9" fill="#111"/>
<rect x="73.45" y="482.75" width="1.9" height="1.9" fill="#111"/>
<rect x="66.45" y="485.45" width="1.9" height="1.9" fill="#111"/>
<rect x="69.65" y="486.45" width="1.9" height="1.9" fill="#111"/>
<rect x="66.45" y="488.65" width="1.9" height="1.9" fill="#111"/>
<rect x="69.65" y="489.15" width="1.9" height="1.9" fill="#111"/>
<rect x="73.45" y="489.15" width="1.9" height="1.9" fill="#111"/>
<rect x="66.45" y="490.75" width="1.9" height="1.9" fill="#111"/>
<rect x="69.65" y="491.85" width="1.9" height="1.9" fill="#111"/>
<rect x="66.45" y="492.85" width="1.9" height="1.9" fill="#111"/>
<rect x="73.45" y="492.85" width="1.9" height="1.9" fill="#111"/>
<rect x="69.65" y="494.45" width="1.9" height="1.9" fill="#111"/>
<rect x="66.45" y="498.75" width="1.9" height="1.9" fill="#111"/>
<rect x="73.45" y="498.75" width="1.9" height="1.9" fill="#111"/>
<rect x="69.65" y="509.35" width="1.9" height="1.9" fill="#111"/>
<rect x="94.05" y="424.45" width="1.9" height="1.9" fill="#111"/>
<rect x="94.05" y="427.15" width="1.9" height="1.9" fill="#111"/>
<rect x="91.15" y="435.95" width="1.9" height="1.9" fill="#111"/>
<rect x="94.05" y="435.05" width="1.9" height="1.9" fill="#111"/>
<rect x="94.05" y="439.05" width="1.9" height="1.9" fill="#111"/>
<rect x="91.15" y="440.45" width="1.9" height="1.9" fill="#111"/>
<rect x="94.05" y="444.75" width="1.9" height="1.9" fill="#111"/>
<rect x="92.55" y="448.55" width="1.9" height="1.9" fill="#111"/>
<rect x="89.55" y="452.85" width="1.9" height="1.9" fill="#111"/>
<rect x="92.55" y="452.85" width="1.9" height="1.9" fill="#111"/>
<rect x="95.55" y="452.85" width="1.9" height="1.9" fill="#111"/>
<rect x="86.05" y="458.45" width="1.9" height="1.9" fill="#111"/>
<rect x="89.05" y="458.45" width="1.9" height="1.9" fill="#111"/>
<rect x="91.35" y="458.85" width="1.9" height="1.9" fill="#111"/>
<rect x="94.05" y="458.45" width="1.9" height="1.9" fill="#111"/>
<rect x="96.85" y="458.45" width="1.9" height="1.9" fill="#111"/>
<rect x="99.05" y="458.45" width="1.9" height="1.9" fill="#111"/>
<rect x="91.15" y="465.25" width="1.9" height="1.9" fill="#111"/>
<rect x="94.05" y="464.65" width="1.9" height="1.9" fill="#111"/>
<rect x="91.15" y="468.05" width="1.9" height="1.9" fill="#111"/>
<rect x="94.05" y="466.35" width="1.9" height="1.9" fill="#111"/>
<rect x="91.15" y="480.45" width="1.9" height="1.9" fill="#111"/>
<rect x="94.05" y="481.55" width="1.9" height="1.9" fill="#111"/>
<rect x="91.15" y="486.65" width="1.9" height="1.9" fill="#111"/>
<rect x="94.05" y="492.85" width="1.9" height="1.9" fill="#111"/>
<rect x="91.15" y="499.05" width="1.9" height="1.9" fill="#111"/>
<rect x="91.15" y="501.25" width="1.9" height="1.9" fill="#111"/>
<rect x="91.15" y="503.55" width="1.9" height="1.9" fill="#111"/>
<rect x="89.05" y="455.05" width="1.9" height="1.9" fill="#111"/>
<rect x="95.55" y="455.55" width="1.9" height="1.9" fill="#111"/>
<rect x="92.55" y="450.55" width="1.9" height="1.9" fill="#111"/>
<rect x="115.25" y="430.25" width="1.9" height="1.9" fill="#111"/>
<rect x="115.25" y="438.15" width="1.9" height="1.9" fill="#111"/>
<rect x="112.65" y="442.05" width="1.9" height="1.9" fill="#111"/>
<rect x="115.25" y="442.65" width="1.9" height="1.9" fill="#111"/>
<rect x="112.65" y="446.05" width="1.9" height="1.9" fill="#111"/>
<rect x="115.25" y="446.55" width="1.9" height="1.9" fill="#111"/>
<rect x="117.45" y="446.55" width="1.9" height="1.9" fill="#111"/>
<rect x="119.95" y="445.45" width="1.9" height="1.9" fill="#111"/>
<rect x="117.45" y="450.15" width="1.9" height="1.9" fill="#111"/>
<rect x="113.15" y="451.05" width="1.9" height="1.9" fill="#111"/>
<rect x="115.25" y="451.65" width="1.9" height="1.9" fill="#111"/>
<rect x="108.65" y="452.75" width="1.9" height="1.9" fill="#111"/>
<rect x="110.95" y="453.05" width="1.9" height="1.9" fill="#111"/>
<rect x="113.15" y="453.25" width="1.9" height="1.9" fill="#111"/>
<rect x="115.25" y="453.55" width="1.9" height="1.9" fill="#111"/>
<rect x="117.45" y="453.55" width="1.9" height="1.9" fill="#111"/>
<rect x="119.95" y="452.75" width="1.9" height="1.9" fill="#111"/>
<rect x="122.15" y="452.75" width="1.9" height="1.9" fill="#111"/>
<rect x="113.15" y="456.75" width="1.9" height="1.9" fill="#111"/>
<rect x="115.25" y="457.25" width="1.9" height="1.9" fill="#111"/>
<rect x="117.45" y="456.95" width="1.9" height="1.9" fill="#111"/>
<rect x="108.65" y="460.35" width="1.9" height="1.9" fill="#111"/>
<rect x="110.95" y="460.35" width="1.9" height="1.9" fill="#111"/>
<rect x="113.15" y="460.05" width="1.9" height="1.9" fill="#111"/>
<rect x="115.25" y="460.65" width="1.9" height="1.9" fill="#111"/>
<rect x="117.45" y="459.85" width="1.9" height="1.9" fill="#111"/>
<rect x="119.95" y="460.35" width="1.9" height="1.9" fill="#111"/>
<rect x="122.15" y="460.05" width="1.9" height="1.9" fill="#111"/>
<rect x="110.95" y="462.35" width="1.9" height="1.9" fill="#111"/>
<rect x="115.25" y="462.95" width="1.9" height="1.9" fill="#111"/>
<rect x="117.45" y="462.95" width="1.9" height="1.9" fill="#111"/>
<rect x="119.95" y="462.95" width="1.9" height="1.9" fill="#111"/>
<rect x="113.15" y="464.55" width="1.9" height="1.9" fill="#111"/>
<rect x="115.25" y="465.15" width="1.9" height="1.9" fill="#111"/>
<rect x="117.45" y="464.55" width="1.9" height="1.9" fill="#111"/>
<rect x="113.15" y="468.55" width="1.9" height="1.9" fill="#111"/>
<rect x="115.25" y="469.05" width="1.9" height="1.9" fill="#111"/>
<rect x="117.45" y="468.55" width="1.9" height="1.9" fill="#111"/>
<rect x="115.25" y="472.45" width="1.9" height="1.9" fill="#111"/>
<rect x="115.25" y="474.15" width="1.9" height="1.9" fill="#111"/>
<rect x="115.25" y="481.45" width="1.9" height="1.9" fill="#111"/>
<rect x="115.25" y="487.15" width="1.9" height="1.9" fill="#111"/>
<rect x="115.25" y="492.15" width="1.9" height="1.9" fill="#111"/>
<rect x="115.25" y="510.75" width="1.9" height="1.9" fill="#111"/>
<rect x="139.05" y="432.85" width="1.9" height="1.9" fill="#111"/>
<rect x="136.05" y="444.55" width="1.9" height="1.9" fill="#111"/>
<rect x="139.05" y="445.25" width="1.9" height="1.9" fill="#111"/>
<rect x="139.05" y="449.65" width="1.9" height="1.9" fill="#111"/>
<rect x="136.05" y="451.95" width="1.9" height="1.9" fill="#111"/>
<rect x="139.05" y="452.65" width="1.9" height="1.9" fill="#111"/>
<rect x="136.05" y="458.65" width="1.9" height="1.9" fill="#111"/>
<rect x="139.05" y="459.65" width="1.9" height="1.9" fill="#111"/>
<rect x="133.05" y="464.65" width="1.9" height="1.9" fill="#111"/>
<rect x="136.05" y="463.35" width="1.9" height="1.9" fill="#111"/>
<rect x="139.05" y="463.35" width="1.9" height="1.9" fill="#111"/>
<rect x="142.05" y="464.05" width="1.9" height="1.9" fill="#111"/>
<rect x="136.05" y="475.65" width="1.9" height="1.9" fill="#111"/>
<rect x="136.05" y="478.15" width="1.9" height="1.9" fill="#111"/>
<rect x="139.05" y="477.35" width="1.9" height="1.9" fill="#111"/>
<rect x="136.05" y="486.95" width="1.9" height="1.9" fill="#111"/>
<rect x="136.05" y="496.35" width="1.9" height="1.9" fill="#111"/>
<rect x="137.55" y="455.55" width="1.9" height="1.9" fill="#111"/>
<rect x="160.15" y="440.05" width="1.9" height="1.9" fill="#111"/>
<rect x="160.15" y="454.05" width="1.9" height="1.9" fill="#111"/>
<rect x="160.15" y="467.35" width="1.9" height="1.9" fill="#111"/>
<rect x="160.15" y="471.95" width="1.9" height="1.9" fill="#111"/>
<rect x="160.15" y="457.55" width="1.9" height="1.9" fill="#111"/>
<line x1="71.50" y1="461.20" x2="71.50" y2="470.20" stroke="#111" stroke-width="0.9"/>
<line x1="67.60" y1="461.50" x2="74.60" y2="461.50" stroke="#111" stroke-width="1.0"/>
<line x1="67.60" y1="470.50" x2="74.60" y2="470.50" stroke="#111" stroke-width="1.0"/>
<line x1="93.50" y1="449.00" x2="93.50" y2="455.30" stroke="#111" stroke-width="0.9"/>
<line x1="90.00" y1="449.50" x2="97.00" y2="449.50" stroke="#111" stroke-width="1.0"/>
<line x1="90.00" y1="455.50" x2="97.00" y2="455.50" stroke="#111" stroke-width="1.0"/>
<line x1="116.50" y1="452.20" x2="116.50" y2="459.60" stroke="#111" stroke-width="0.9"/>
<line x1="112.60" y1="452.50" x2="119.60" y2="452.50" stroke="#111" stroke-width="1.0"/>
<line x1="112.60" y1="459.50" x2="119.60" y2="459.50" stroke="#111" stroke-width="1.0"/>
<line x1="138.50" y1="454.00" x2="138.50" y2="461.00" stroke="#111" stroke-width="0.9"/>
<line x1="135.10" y1="454.50" x2="142.10" y2="454.50" stroke="#111" stroke-width="1.0"/>
<line x1="135.10" y1="461.50" x2="142.10" y2="461.50" stroke="#111" stroke-width="1.0"/>
<line x1="161.50" y1="448.80" x2="161.50" y2="460.30" stroke="#111" stroke-width="0.9"/>
<line x1="157.80" y1="448.50" x2="164.80" y2="448.50" stroke="#111" stroke-width="1.0"/>
<line x1="157.80" y1="460.50" x2="164.80" y2="460.50" stroke="#111" stroke-width="1.0"/>
<path d="M70.9,397.4 L70.9,384.5 L116.2,384.5 L116.2,397.6" fill="none" stroke="#222" stroke-width="1"/>
<path d="M70.9,412.2 L70.9,399.5 L92.3,399.5 L92.3,412.2" fill="none" stroke="#222" stroke-width="1"/>
<circle cx="92.1" cy="381.2" r="1.05" fill="#222"/>
<circle cx="95.0" cy="381.2" r="1.05" fill="#222"/>
<circle cx="80.1" cy="395.6" r="1.05" fill="#222"/>
<circle cx="83.0" cy="395.6" r="1.05" fill="#222"/>
<text x="0" y="0" font-size="7.6" text-anchor="end" fill="#222222" stroke="#222222" stroke-width="0.2" transform="translate(70.80 556.30) rotate(-45) scale(0.95 1)">ETP (n = 43)</text>
<text x="0" y="0" font-size="7.6" text-anchor="end" fill="#222222" stroke="#222222" stroke-width="0.2" transform="translate(93.20 556.30) rotate(-45) scale(0.95 1)">Immature (n = 36)</text>
<text x="0" y="0" font-size="7.6" text-anchor="end" fill="#222222" stroke="#222222" stroke-width="0.2" transform="translate(115.80 556.30) rotate(-45) scale(0.95 1)">Cortical (n = 44)</text>
<text x="0" y="0" font-size="7.6" text-anchor="end" fill="#222222" stroke="#222222" stroke-width="0.2" transform="translate(138.30 556.30) rotate(-45) scale(0.95 1)">TCR&#945;&#946; (n = 18)</text>
<text x="0" y="0" font-size="7.6" text-anchor="end" fill="#222222" stroke="#222222" stroke-width="0.2" transform="translate(161.00 556.30) rotate(-45) scale(0.95 1)">TCR&#947;&#948; (n = 5)</text>
<text x="0" y="0" font-size="7.9" text-anchor="start" fill="#222222" stroke="#222222" stroke-width="0.27" transform="translate(35.60 502.70) rotate(-90) scale(0.8607 1)">IL7R transcript (%/ABL1)</text>
<line x1="230.50" y1="383.60" x2="230.50" y2="545.30" stroke="#1a1a1a" stroke-width="1.1"/>
<line x1="229.80" y1="544.50" x2="345.00" y2="544.50" stroke="#1a1a1a" stroke-width="1.1"/>
<line x1="227.10" y1="544.50" x2="230.30" y2="544.50" stroke="#1a1a1a" stroke-width="1"/>
<text x="0" y="0" font-size="7.7" text-anchor="end" fill="#222222" stroke="#222222" stroke-width="0.2" transform="translate(223.00 547.30) scale(0.97 1)">4</text>
<line x1="227.10" y1="512.50" x2="230.30" y2="512.50" stroke="#1a1a1a" stroke-width="1"/>
<text x="0" y="0" font-size="7.7" text-anchor="end" fill="#222222" stroke="#222222" stroke-width="0.2" transform="translate(223.00 515.30) scale(0.97 1)">6</text>
<line x1="227.10" y1="480.50" x2="230.30" y2="480.50" stroke="#1a1a1a" stroke-width="1"/>
<text x="0" y="0" font-size="7.7" text-anchor="end" fill="#222222" stroke="#222222" stroke-width="0.2" transform="translate(223.00 483.30) scale(0.97 1)">8</text>
<line x1="227.10" y1="448.50" x2="230.30" y2="448.50" stroke="#1a1a1a" stroke-width="1"/>
<text x="0" y="0" font-size="7.7" text-anchor="end" fill="#222222" stroke="#222222" stroke-width="0.2" transform="translate(223.00 451.30) scale(0.97 1)">10</text>
<line x1="227.10" y1="416.50" x2="230.30" y2="416.50" stroke="#1a1a1a" stroke-width="1"/>
<text x="0" y="0" font-size="7.7" text-anchor="end" fill="#222222" stroke="#222222" stroke-width="0.2" transform="translate(223.00 419.30) scale(0.97 1)">12</text>
<line x1="227.10" y1="384.50" x2="230.30" y2="384.50" stroke="#1a1a1a" stroke-width="1"/>
<text x="0" y="0" font-size="7.7" text-anchor="end" fill="#222222" stroke="#222222" stroke-width="0.2" transform="translate(223.00 387.30) scale(0.97 1)">14</text>
<rect x="234.40" y="458.20" width="14.70" height="86.60" fill="#8e82c4"/>
<line x1="241.50" y1="544.80" x2="241.50" y2="547.80" stroke="#1a1a1a" stroke-width="1"/>
<rect x="257.00" y="443.90" width="14.70" height="100.90" fill="#8e82c4"/>
<line x1="264.50" y1="544.80" x2="264.50" y2="547.80" stroke="#1a1a1a" stroke-width="1"/>
<rect x="280.10" y="447.90" width="14.70" height="96.90" fill="#8e82c4"/>
<line x1="287.50" y1="544.80" x2="287.50" y2="547.80" stroke="#1a1a1a" stroke-width="1"/>
<rect x="303.10" y="448.40" width="14.70" height="96.40" fill="#8e82c4"/>
<line x1="310.50" y1="544.80" x2="310.50" y2="547.80" stroke="#1a1a1a" stroke-width="1"/>
<rect x="326.10" y="441.70" width="14.70" height="103.10" fill="#8e82c4"/>
<line x1="333.50" y1="544.80" x2="333.50" y2="547.80" stroke="#1a1a1a" stroke-width="1"/>
<line x1="237.30" y1="385.50" x2="337.20" y2="385.50" stroke="#333" stroke-width="1.1"/>
<text x="0" y="0" font-size="7" text-anchor="middle" fill="#222222" stroke="#222222" stroke-width="0.2" transform="translate(287.20 380.80)">ns</text>
<rect x="240.65" y="390.25" width="1.9" height="1.9" fill="#111"/>
<rect x="240.65" y="414.45" width="1.9" height="1.9" fill="#111"/>
<rect x="240.65" y="422.05" width="1.9" height="1.9" fill="#111"/>
<rect x="237.55" y="426.25" width="1.9" height="1.9" fill="#111"/>
<rect x="240.65" y="427.55" width="1.9" height="1.9" fill="#111"/>
<rect x="237.55" y="432.55" width="1.9" height="1.9" fill="#111"/>
<rect x="243.55" y="432.55" width="1.9" height="1.9" fill="#111"/>
<rect x="240.65" y="433.55" width="1.9" height="1.9" fill="#111"/>
<rect x="240.65" y="440.05" width="1.9" height="1.9" fill="#111"/>
<rect x="237.55" y="443.35" width="1.9" height="1.9" fill="#111"/>
<rect x="243.55" y="443.35" width="1.9" height="1.9" fill="#111"/>
<rect x="240.65" y="445.55" width="1.9" height="1.9" fill="#111"/>
<rect x="237.55" y="447.75" width="1.9" height="1.9" fill="#111"/>
<rect x="243.55" y="447.75" width="1.9" height="1.9" fill="#111"/>
<rect x="240.65" y="452.05" width="1.9" height="1.9" fill="#111"/>
<rect x="237.55" y="453.45" width="1.9" height="1.9" fill="#111"/>
<rect x="243.55" y="453.45" width="1.9" height="1.9" fill="#111"/>
<rect x="240.65" y="455.65" width="1.9" height="1.9" fill="#111"/>
<rect x="237.55" y="457.85" width="1.9" height="1.9" fill="#111"/>
<rect x="240.65" y="460.65" width="1.9" height="1.9" fill="#111"/>
<rect x="243.55" y="460.65" width="1.9" height="1.9" fill="#111"/>
<rect x="240.65" y="462.85" width="1.9" height="1.9" fill="#111"/>
<rect x="240.65" y="469.35" width="1.9" height="1.9" fill="#111"/>
<rect x="240.65" y="474.45" width="1.9" height="1.9" fill="#111"/>
<rect x="240.65" y="476.55" width="1.9" height="1.9" fill="#111"/>
<rect x="240.65" y="481.65" width="1.9" height="1.9" fill="#111"/>
<rect x="240.65" y="498.25" width="1.9" height="1.9" fill="#111"/>
<rect x="240.65" y="504.05" width="1.9" height="1.9" fill="#111"/>
<rect x="240.65" y="511.25" width="1.9" height="1.9" fill="#111"/>
<rect x="243.55" y="511.95" width="1.9" height="1.9" fill="#111"/>
<rect x="240.65" y="527.75" width="1.9" height="1.9" fill="#111"/>
<rect x="237.55" y="436.55" width="1.9" height="1.9" fill="#111"/>
<rect x="243.55" y="450.05" width="1.9" height="1.9" fill="#111"/>
<rect x="263.55" y="417.35" width="1.9" height="1.9" fill="#111"/>
<rect x="263.55" y="418.75" width="1.9" height="1.9" fill="#111"/>
<rect x="263.55" y="423.05" width="1.9" height="1.9" fill="#111"/>
<rect x="260.55" y="433.25" width="1.9" height="1.9" fill="#111"/>
<rect x="266.55" y="433.95" width="1.9" height="1.9" fill="#111"/>
<rect x="263.55" y="440.05" width="1.9" height="1.9" fill="#111"/>
<rect x="260.55" y="450.55" width="1.9" height="1.9" fill="#111"/>
<rect x="263.55" y="453.45" width="1.9" height="1.9" fill="#111"/>
<rect x="266.55" y="454.95" width="1.9" height="1.9" fill="#111"/>
<rect x="263.55" y="459.95" width="1.9" height="1.9" fill="#111"/>
<rect x="263.55" y="483.75" width="1.9" height="1.9" fill="#111"/>
<rect x="260.55" y="445.05" width="1.9" height="1.9" fill="#111"/>
<rect x="266.55" y="446.55" width="1.9" height="1.9" fill="#111"/>
<rect x="263.55" y="448.55" width="1.9" height="1.9" fill="#111"/>
<rect x="286.35" y="404.25" width="1.9" height="1.9" fill="#111"/>
<rect x="286.35" y="410.35" width="1.9" height="1.9" fill="#111"/>
<rect x="286.35" y="417.05" width="1.9" height="1.9" fill="#111"/>
<rect x="286.35" y="422.05" width="1.9" height="1.9" fill="#111"/>
<rect x="286.35" y="423.55" width="1.9" height="1.9" fill="#111"/>
<rect x="288.35" y="426.05" width="1.9" height="1.9" fill="#111"/>
<rect x="284.55" y="427.05" width="1.9" height="1.9" fill="#111"/>
<rect x="286.35" y="427.55" width="1.9" height="1.9" fill="#111"/>
<rect x="282.55" y="429.05" width="1.9" height="1.9" fill="#111"/>
<rect x="288.35" y="429.05" width="1.9" height="1.9" fill="#111"/>
<rect x="279.55" y="431.55" width="1.9" height="1.9" fill="#111"/>
<rect x="282.05" y="431.55" width="1.9" height="1.9" fill="#111"/>
<rect x="284.55" y="431.55" width="1.9" height="1.9" fill="#111"/>
<rect x="286.35" y="431.05" width="1.9" height="1.9" fill="#111"/>
<rect x="289.05" y="431.05" width="1.9" height="1.9" fill="#111"/>
<rect x="291.05" y="431.55" width="1.9" height="1.9" fill="#111"/>
<rect x="293.05" y="431.55" width="1.9" height="1.9" fill="#111"/>
<rect x="284.55" y="433.05" width="1.9" height="1.9" fill="#111"/>
<rect x="288.35" y="433.05" width="1.9" height="1.9" fill="#111"/>
<rect x="293.05" y="432.55" width="1.9" height="1.9" fill="#111"/>
<rect x="282.05" y="434.85" width="1.9" height="1.9" fill="#111"/>
<rect x="284.55" y="434.85" width="1.9" height="1.9" fill="#111"/>
<rect x="288.35" y="435.55" width="1.9" height="1.9" fill="#111"/>
<rect x="290.55" y="435.55" width="1.9" height="1.9" fill="#111"/>
<rect x="282.05" y="436.85" width="1.9" height="1.9" fill="#111"/>
<rect x="284.55" y="437.55" width="1.9" height="1.9" fill="#111"/>
<rect x="288.35" y="437.05" width="1.9" height="1.9" fill="#111"/>
<rect x="284.55" y="439.05" width="1.9" height="1.9" fill="#111"/>
<rect x="286.35" y="439.55" width="1.9" height="1.9" fill="#111"/>
<rect x="288.35" y="438.85" width="1.9" height="1.9" fill="#111"/>
<rect x="282.05" y="442.05" width="1.9" height="1.9" fill="#111"/>
<rect x="284.55" y="442.55" width="1.9" height="1.9" fill="#111"/>
<rect x="286.35" y="443.05" width="1.9" height="1.9" fill="#111"/>
<rect x="288.35" y="443.05" width="1.9" height="1.9" fill="#111"/>
<rect x="290.55" y="443.05" width="1.9" height="1.9" fill="#111"/>
<rect x="282.05" y="444.05" width="1.9" height="1.9" fill="#111"/>
<rect x="284.55" y="444.05" width="1.9" height="1.9" fill="#111"/>
<rect x="286.35" y="444.55" width="1.9" height="1.9" fill="#111"/>
<rect x="288.35" y="444.85" width="1.9" height="1.9" fill="#111"/>
<rect x="290.55" y="445.05" width="1.9" height="1.9" fill="#111"/>
<rect x="282.05" y="446.05" width="1.9" height="1.9" fill="#111"/>
<rect x="284.55" y="446.05" width="1.9" height="1.9" fill="#111"/>
<rect x="286.35" y="446.25" width="1.9" height="1.9" fill="#111"/>
<rect x="288.35" y="446.55" width="1.9" height="1.9" fill="#111"/>
<rect x="290.55" y="446.25" width="1.9" height="1.9" fill="#111"/>
<rect x="284.55" y="448.05" width="1.9" height="1.9" fill="#111"/>
<rect x="286.35" y="448.55" width="1.9" height="1.9" fill="#111"/>
<rect x="288.35" y="448.55" width="1.9" height="1.9" fill="#111"/>
<rect x="291.05" y="448.55" width="1.9" height="1.9" fill="#111"/>
<rect x="284.55" y="450.05" width="1.9" height="1.9" fill="#111"/>
<rect x="288.35" y="449.55" width="1.9" height="1.9" fill="#111"/>
<rect x="286.35" y="451.55" width="1.9" height="1.9" fill="#111"/>
<rect x="290.55" y="451.85" width="1.9" height="1.9" fill="#111"/>
<rect x="284.55" y="454.05" width="1.9" height="1.9" fill="#111"/>
<rect x="286.35" y="454.05" width="1.9" height="1.9" fill="#111"/>
<rect x="288.35" y="453.55" width="1.9" height="1.9" fill="#111"/>
<rect x="286.35" y="456.05" width="1.9" height="1.9" fill="#111"/>
<rect x="288.35" y="457.55" width="1.9" height="1.9" fill="#111"/>
<rect x="284.55" y="458.05" width="1.9" height="1.9" fill="#111"/>
<rect x="284.55" y="462.05" width="1.9" height="1.9" fill="#111"/>
<rect x="286.35" y="462.55" width="1.9" height="1.9" fill="#111"/>
<rect x="288.35" y="463.55" width="1.9" height="1.9" fill="#111"/>
<rect x="284.55" y="465.05" width="1.9" height="1.9" fill="#111"/>
<rect x="286.35" y="465.55" width="1.9" height="1.9" fill="#111"/>
<rect x="288.35" y="465.55" width="1.9" height="1.9" fill="#111"/>
<rect x="284.55" y="469.05" width="1.9" height="1.9" fill="#111"/>
<rect x="288.35" y="469.55" width="1.9" height="1.9" fill="#111"/>
<rect x="286.35" y="471.05" width="1.9" height="1.9" fill="#111"/>
<rect x="286.35" y="473.05" width="1.9" height="1.9" fill="#111"/>
<rect x="286.35" y="474.55" width="1.9" height="1.9" fill="#111"/>
<rect x="286.55" y="481.05" width="1.9" height="1.9" fill="#111"/>
<rect x="283.55" y="486.05" width="1.9" height="1.9" fill="#111"/>
<rect x="286.55" y="489.05" width="1.9" height="1.9" fill="#111"/>
<rect x="289.55" y="490.55" width="1.9" height="1.9" fill="#111"/>
<rect x="286.55" y="507.05" width="1.9" height="1.9" fill="#111"/>
<rect x="309.55" y="421.05" width="1.9" height="1.9" fill="#111"/>
<rect x="309.55" y="424.35" width="1.9" height="1.9" fill="#111"/>
<rect x="309.55" y="427.65" width="1.9" height="1.9" fill="#111"/>
<rect x="306.55" y="430.95" width="1.9" height="1.9" fill="#111"/>
<rect x="312.55" y="430.95" width="1.9" height="1.9" fill="#111"/>
<rect x="309.55" y="433.05" width="1.9" height="1.9" fill="#111"/>
<rect x="306.55" y="435.35" width="1.9" height="1.9" fill="#111"/>
<rect x="312.55" y="435.35" width="1.9" height="1.9" fill="#111"/>
<rect x="309.55" y="437.55" width="1.9" height="1.9" fill="#111"/>
<rect x="306.55" y="439.65" width="1.9" height="1.9" fill="#111"/>
<rect x="312.55" y="439.65" width="1.9" height="1.9" fill="#111"/>
<rect x="309.55" y="441.85" width="1.9" height="1.9" fill="#111"/>
<rect x="306.55" y="444.05" width="1.9" height="1.9" fill="#111"/>
<rect x="312.55" y="444.05" width="1.9" height="1.9" fill="#111"/>
<rect x="309.55" y="446.25" width="1.9" height="1.9" fill="#111"/>
<rect x="306.55" y="448.45" width="1.9" height="1.9" fill="#111"/>
<rect x="312.55" y="448.45" width="1.9" height="1.9" fill="#111"/>
<rect x="309.55" y="450.65" width="1.9" height="1.9" fill="#111"/>
<rect x="309.55" y="452.85" width="1.9" height="1.9" fill="#111"/>
<rect x="309.55" y="463.75" width="1.9" height="1.9" fill="#111"/>
<rect x="309.55" y="470.35" width="1.9" height="1.9" fill="#111"/>
<rect x="309.55" y="476.85" width="1.9" height="1.9" fill="#111"/>
<rect x="309.55" y="482.35" width="1.9" height="1.9" fill="#111"/>
<rect x="309.55" y="486.75" width="1.9" height="1.9" fill="#111"/>
<rect x="306.55" y="452.55" width="1.9" height="1.9" fill="#111"/>
<rect x="312.55" y="451.55" width="1.9" height="1.9" fill="#111"/>
<rect x="332.55" y="421.05" width="1.9" height="1.9" fill="#111"/>
<rect x="332.55" y="423.25" width="1.9" height="1.9" fill="#111"/>
<rect x="335.55" y="426.55" width="1.9" height="1.9" fill="#111"/>
<rect x="329.55" y="433.05" width="1.9" height="1.9" fill="#111"/>
<rect x="332.55" y="435.35" width="1.9" height="1.9" fill="#111"/>
<rect x="335.55" y="433.85" width="1.9" height="1.9" fill="#111"/>
<rect x="332.55" y="437.55" width="1.9" height="1.9" fill="#111"/>
<rect x="332.55" y="439.65" width="1.9" height="1.9" fill="#111"/>
<rect x="332.55" y="444.05" width="1.9" height="1.9" fill="#111"/>
<rect x="332.55" y="449.55" width="1.9" height="1.9" fill="#111"/>
<rect x="332.55" y="471.45" width="1.9" height="1.9" fill="#111"/>
<rect x="332.55" y="500.55" width="1.9" height="1.9" fill="#111"/>
<rect x="329.55" y="442.05" width="1.9" height="1.9" fill="#111"/>
<rect x="335.55" y="446.05" width="1.9" height="1.9" fill="#111"/>
<line x1="241.50" y1="452.20" x2="241.50" y2="462.00" stroke="#111" stroke-width="0.9"/>
<line x1="238.25" y1="452.50" x2="245.25" y2="452.50" stroke="#111" stroke-width="1.0"/>
<line x1="238.25" y1="462.50" x2="245.25" y2="462.50" stroke="#111" stroke-width="1.0"/>
<line x1="264.50" y1="439.50" x2="264.50" y2="449.00" stroke="#111" stroke-width="0.9"/>
<line x1="260.85" y1="439.50" x2="267.85" y2="439.50" stroke="#111" stroke-width="1.0"/>
<line x1="260.85" y1="449.50" x2="267.85" y2="449.50" stroke="#111" stroke-width="1.0"/>
<line x1="287.50" y1="444.60" x2="287.50" y2="451.20" stroke="#111" stroke-width="0.9"/>
<line x1="283.95" y1="444.50" x2="290.95" y2="444.50" stroke="#111" stroke-width="1.0"/>
<line x1="283.95" y1="451.50" x2="290.95" y2="451.50" stroke="#111" stroke-width="1.0"/>
<line x1="310.50" y1="444.60" x2="310.50" y2="452.20" stroke="#111" stroke-width="0.9"/>
<line x1="306.95" y1="444.50" x2="313.95" y2="444.50" stroke="#111" stroke-width="1.0"/>
<line x1="306.95" y1="452.50" x2="313.95" y2="452.50" stroke="#111" stroke-width="1.0"/>
<line x1="333.50" y1="437.50" x2="333.50" y2="446.00" stroke="#111" stroke-width="0.9"/>
<line x1="329.95" y1="437.50" x2="336.95" y2="437.50" stroke="#111" stroke-width="1.0"/>
<line x1="329.95" y1="446.50" x2="336.95" y2="446.50" stroke="#111" stroke-width="1.0"/>
<text x="0" y="0" font-size="7.6" text-anchor="end" fill="#222222" stroke="#222222" stroke-width="0.2" transform="translate(241.45 556.30) rotate(-45) scale(0.95 1)">ETP (n = 33)</text>
<text x="0" y="0" font-size="7.6" text-anchor="end" fill="#222222" stroke="#222222" stroke-width="0.2" transform="translate(264.05 556.30) rotate(-45) scale(0.95 1)">Immature (n = 14)</text>
<text x="0" y="0" font-size="7.6" text-anchor="end" fill="#222222" stroke="#222222" stroke-width="0.2" transform="translate(287.15 556.30) rotate(-45) scale(0.95 1)">Cortical (n = 68)</text>
<text x="0" y="0" font-size="7.6" text-anchor="end" fill="#222222" stroke="#222222" stroke-width="0.2" transform="translate(310.15 556.30) rotate(-45) scale(0.95 1)">TCR&#945;&#946; (n = 26)</text>
<text x="0" y="0" font-size="7.6" text-anchor="end" fill="#222222" stroke="#222222" stroke-width="0.2" transform="translate(333.15 556.30) rotate(-45) scale(0.95 1)">TCR&#947;&#948; (n = 15)</text>
<text x="0" y="0" font-size="8.7" text-anchor="start" fill="#222222" stroke="#222222" stroke-width="0.311" transform="translate(197.90 485.40) rotate(-90) scale(0.7781 1)">IL7R transcript</text>
<text x="0" y="0" font-size="8.7" text-anchor="start" fill="#222222" stroke="#222222" stroke-width="0.294" transform="translate(208.70 511.30) rotate(-90) scale(0.8127 1)">(Log 2 normalized expression)</text>
<text x="0" y="0" font-size="12.5" font-weight="bold" fill="#111" transform="translate(362.80 378.10) scale(1.12 1)">D</text>
<line x1="405.50" y1="383.00" x2="405.50" y2="545.20" stroke="#1a1a1a" stroke-width="1.1"/>
<line x1="405.00" y1="544.50" x2="512.00" y2="544.50" stroke="#1a1a1a" stroke-width="1.1"/>
<line x1="402.30" y1="544.50" x2="405.50" y2="544.50" stroke="#1a1a1a" stroke-width="1"/>
<text x="0" y="0" font-size="7.7" text-anchor="end" fill="#222222" stroke="#222222" stroke-width="0.2" transform="translate(399.60 547.20) scale(0.97 1)">0</text>
<line x1="403.90" y1="528.50" x2="405.50" y2="528.50" stroke="#1a1a1a" stroke-width="0.8"/>
<line x1="402.30" y1="512.50" x2="405.50" y2="512.50" stroke="#1a1a1a" stroke-width="1"/>
<text x="0" y="0" font-size="7.7" text-anchor="end" fill="#222222" stroke="#222222" stroke-width="0.2" transform="translate(399.60 515.30) scale(0.97 1)">20</text>
<line x1="403.90" y1="496.50" x2="405.50" y2="496.50" stroke="#1a1a1a" stroke-width="0.8"/>
<line x1="402.30" y1="480.50" x2="405.50" y2="480.50" stroke="#1a1a1a" stroke-width="1"/>
<text x="0" y="0" font-size="7.7" text-anchor="end" fill="#222222" stroke="#222222" stroke-width="0.2" transform="translate(399.60 483.40) scale(0.97 1)">40</text>
<line x1="403.90" y1="464.50" x2="405.50" y2="464.50" stroke="#1a1a1a" stroke-width="0.8"/>
<line x1="402.30" y1="449.50" x2="405.50" y2="449.50" stroke="#1a1a1a" stroke-width="1"/>
<text x="0" y="0" font-size="7.7" text-anchor="end" fill="#222222" stroke="#222222" stroke-width="0.2" transform="translate(399.60 451.50) scale(0.97 1)">60</text>
<line x1="403.90" y1="433.50" x2="405.50" y2="433.50" stroke="#1a1a1a" stroke-width="0.8"/>
<line x1="402.30" y1="417.50" x2="405.50" y2="417.50" stroke="#1a1a1a" stroke-width="1"/>
<text x="0" y="0" font-size="7.7" text-anchor="end" fill="#222222" stroke="#222222" stroke-width="0.2" transform="translate(399.60 419.60) scale(0.97 1)">80</text>
<line x1="403.90" y1="401.50" x2="405.50" y2="401.50" stroke="#1a1a1a" stroke-width="0.8"/>
<line x1="402.30" y1="385.50" x2="405.50" y2="385.50" stroke="#1a1a1a" stroke-width="1"/>
<text x="0" y="0" font-size="7.7" text-anchor="end" fill="#222222" stroke="#222222" stroke-width="0.2" transform="translate(399.60 387.70) scale(0.97 1)">100</text>
<rect x="424.00" y="385.20" width="24.00" height="43.06" fill="#c3c3ca"/>
<rect x="424.00" y="428.27" width="24.00" height="116.44" fill="#f08a00"/>
<line x1="436.50" y1="544.70" x2="436.50" y2="547.70" stroke="#1a1a1a" stroke-width="1"/>
<rect x="469.20" y="385.20" width="24.00" height="51.04" fill="#c3c3ca"/>
<rect x="469.20" y="436.24" width="24.00" height="108.46" fill="#f08a00"/>
<line x1="481.50" y1="544.70" x2="481.50" y2="547.70" stroke="#1a1a1a" stroke-width="1"/>
<line x1="422.00" y1="378.50" x2="494.00" y2="378.50" stroke="#333" stroke-width="1.1"/>
<text x="0" y="0" font-size="7" text-anchor="middle" fill="#222222" stroke="#222222" stroke-width="0.2" transform="translate(457.30 373.50)">ns</text>
<text x="0" y="0" font-size="7.6" text-anchor="end" fill="#222222" stroke="#222222" stroke-width="0.2" transform="translate(435.70 556.20) rotate(-45) scale(0.95 1)">Adults (n = 200)</text>
<text x="0" y="0" font-size="7.6" text-anchor="end" fill="#222222" stroke="#222222" stroke-width="0.2" transform="translate(480.90 556.20) rotate(-45) scale(0.95 1)">Children (n = 100)</text>
<text x="0" y="0" font-size="8.8" text-anchor="start" fill="#222222" stroke="#222222" stroke-width="0.334" transform="translate(380.80 487.40) rotate(-90) scale(0.7311 1)">% sIL7R+ T-ALL</text>
<text x="0" y="0" font-size="12.5" font-weight="bold" fill="#111" transform="translate(59.80 627.40) scale(1.0 1)">E</text>
<line x1="111.50" y1="631.00" x2="111.50" y2="738.20" stroke="#1a1a1a" stroke-width="1.1"/>
<line x1="111.30" y1="737.50" x2="238.00" y2="737.50" stroke="#1a1a1a" stroke-width="1.1"/>
<line x1="108.60" y1="737.50" x2="111.80" y2="737.50" stroke="#1a1a1a" stroke-width="1"/>
<text x="0" y="0" font-size="7.7" text-anchor="end" fill="#222222" stroke="#222222" stroke-width="0.2" transform="translate(105.60 740.20) scale(0.97 1)">0</text>
<line x1="110.20" y1="727.50" x2="111.80" y2="727.50" stroke="#1a1a1a" stroke-width="0.8"/>
<line x1="108.60" y1="716.50" x2="111.80" y2="716.50" stroke="#1a1a1a" stroke-width="1"/>
<text x="0" y="0" font-size="7.7" text-anchor="end" fill="#222222" stroke="#222222" stroke-width="0.2" transform="translate(105.60 719.42) scale(0.97 1)">20</text>
<line x1="110.20" y1="706.50" x2="111.80" y2="706.50" stroke="#1a1a1a" stroke-width="0.8"/>
<line x1="108.60" y1="696.50" x2="111.80" y2="696.50" stroke="#1a1a1a" stroke-width="1"/>
<text x="0" y="0" font-size="7.7" text-anchor="end" fill="#222222" stroke="#222222" stroke-width="0.2" transform="translate(105.60 698.64) scale(0.97 1)">40</text>
<line x1="110.20" y1="685.50" x2="111.80" y2="685.50" stroke="#1a1a1a" stroke-width="0.8"/>
<line x1="108.60" y1="675.50" x2="111.80" y2="675.50" stroke="#1a1a1a" stroke-width="1"/>
<text x="0" y="0" font-size="7.7" text-anchor="end" fill="#222222" stroke="#222222" stroke-width="0.2" transform="translate(105.60 677.86) scale(0.97 1)">60</text>
<line x1="110.20" y1="664.50" x2="111.80" y2="664.50" stroke="#1a1a1a" stroke-width="0.8"/>
<line x1="108.60" y1="654.50" x2="111.80" y2="654.50" stroke="#1a1a1a" stroke-width="1"/>
<text x="0" y="0" font-size="7.7" text-anchor="end" fill="#222222" stroke="#222222" stroke-width="0.2" transform="translate(105.60 657.08) scale(0.97 1)">80</text>
<line x1="110.20" y1="644.50" x2="111.80" y2="644.50" stroke="#1a1a1a" stroke-width="0.8"/>
<line x1="108.60" y1="633.50" x2="111.80" y2="633.50" stroke="#1a1a1a" stroke-width="1"/>
<text x="0" y="0" font-size="7.7" text-anchor="end" fill="#222222" stroke="#222222" stroke-width="0.2" transform="translate(105.60 636.30) scale(0.97 1)">100</text>
<line x1="112.8" y1="716.92" x2="238" y2="716.92" stroke="#222" stroke-width="0.9" stroke-dasharray="1,1.6"/>
<line x1="121.30" y1="627.50" x2="226.40" y2="627.50" stroke="#222" stroke-width="1.1"/>
<circle cx="168.7" cy="623.6" r="1.1" fill="#222"/>
<circle cx="172.0" cy="623.6" r="1.1" fill="#222"/>
<circle cx="175.3" cy="623.6" r="1.1" fill="#222"/>
<circle cx="178.6" cy="623.6" r="1.1" fill="#222"/>
<circle cx="125.80" cy="641.00" r="1.35" fill="#d0281a"/>
<circle cx="123.10" cy="654.80" r="1.35" fill="#d0281a"/>
<circle cx="126.20" cy="653.10" r="1.35" fill="#d0281a"/>
<circle cx="129.00" cy="653.40" r="1.35" fill="#d0281a"/>
<circle cx="125.80" cy="656.80" r="1.35" fill="#d0281a"/>
<circle cx="123.10" cy="663.00" r="1.35" fill="#d0281a"/>
<circle cx="125.80" cy="664.10" r="1.35" fill="#d0281a"/>
<circle cx="120.30" cy="666.00" r="1.35" fill="#d0281a"/>
<circle cx="128.60" cy="666.90" r="1.35" fill="#d0281a"/>
<circle cx="120.30" cy="671.30" r="1.35" fill="#d0281a"/>
<circle cx="123.10" cy="669.90" r="1.35" fill="#d0281a"/>
<circle cx="125.80" cy="670.60" r="1.35" fill="#d0281a"/>
<circle cx="128.60" cy="670.20" r="1.35" fill="#d0281a"/>
<circle cx="125.80" cy="672.90" r="1.35" fill="#d0281a"/>
<circle cx="120.30" cy="677.90" r="1.35" fill="#d0281a"/>
<circle cx="123.10" cy="678.80" r="1.35" fill="#d0281a"/>
<circle cx="125.80" cy="677.50" r="1.35" fill="#d0281a"/>
<circle cx="128.60" cy="676.80" r="1.35" fill="#d0281a"/>
<circle cx="128.60" cy="679.50" r="1.35" fill="#d0281a"/>
<circle cx="123.10" cy="681.20" r="1.35" fill="#d0281a"/>
<circle cx="125.80" cy="680.20" r="1.35" fill="#d0281a"/>
<circle cx="123.10" cy="687.80" r="1.35" fill="#d0281a"/>
<circle cx="125.80" cy="690.50" r="1.35" fill="#d0281a"/>
<circle cx="125.80" cy="693.30" r="1.35" fill="#d0281a"/>
<circle cx="123.10" cy="698.80" r="1.35" fill="#d0281a"/>
<circle cx="125.80" cy="698.80" r="1.35" fill="#d0281a"/>
<circle cx="128.60" cy="697.70" r="1.35" fill="#d0281a"/>
<circle cx="123.10" cy="701.50" r="1.35" fill="#d0281a"/>
<circle cx="125.80" cy="701.50" r="1.35" fill="#d0281a"/>
<circle cx="128.60" cy="701.50" r="1.35" fill="#d0281a"/>
<circle cx="123.10" cy="704.30" r="1.35" fill="#d0281a"/>
<circle cx="125.80" cy="704.30" r="1.35" fill="#d0281a"/>
<circle cx="125.80" cy="707.00" r="1.35" fill="#d0281a"/>
<circle cx="123.10" cy="712.30" r="1.35" fill="#d0281a"/>
<circle cx="128.60" cy="711.80" r="1.35" fill="#d0281a"/>
<circle cx="123.10" cy="713.90" r="1.35" fill="#d0281a"/>
<circle cx="125.80" cy="714.60" r="1.35" fill="#d0281a"/>
<circle cx="117.60" cy="716.40" r="1.35" fill="#d0281a"/>
<circle cx="120.30" cy="717.00" r="1.35" fill="#d0281a"/>
<circle cx="123.10" cy="717.00" r="1.35" fill="#d0281a"/>
<circle cx="125.80" cy="717.30" r="1.35" fill="#d0281a"/>
<circle cx="128.60" cy="718.00" r="1.35" fill="#d0281a"/>
<circle cx="131.30" cy="716.60" r="1.35" fill="#d0281a"/>
<circle cx="123.10" cy="719.40" r="1.35" fill="#d0281a"/>
<circle cx="125.80" cy="719.40" r="1.35" fill="#d0281a"/>
<circle cx="123.10" cy="722.20" r="1.35" fill="#d0281a"/>
<circle cx="125.80" cy="723.50" r="1.35" fill="#d0281a"/>
<circle cx="123.10" cy="724.90" r="1.35" fill="#d0281a"/>
<circle cx="125.80" cy="727.70" r="1.35" fill="#d0281a"/>
<circle cx="117.60" cy="729.30" r="1.35" fill="#d0281a"/>
<circle cx="120.30" cy="731.10" r="1.35" fill="#d0281a"/>
<circle cx="123.10" cy="730.10" r="1.35" fill="#d0281a"/>
<circle cx="125.80" cy="731.10" r="1.35" fill="#d0281a"/>
<circle cx="128.60" cy="731.80" r="1.35" fill="#d0281a"/>
<circle cx="131.30" cy="729.30" r="1.35" fill="#d0281a"/>
<circle cx="117.60" cy="733.40" r="1.35" fill="#d0281a"/>
<circle cx="120.30" cy="734.50" r="1.35" fill="#d0281a"/>
<circle cx="123.10" cy="733.40" r="1.35" fill="#d0281a"/>
<circle cx="125.80" cy="735.20" r="1.35" fill="#d0281a"/>
<circle cx="128.60" cy="733.40" r="1.35" fill="#d0281a"/>
<circle cx="131.30" cy="735.20" r="1.35" fill="#d0281a"/>
<circle cx="117.60" cy="736.60" r="1.35" fill="#d0281a"/>
<circle cx="120.30" cy="737.30" r="1.35" fill="#d0281a"/>
<circle cx="123.10" cy="736.60" r="1.35" fill="#d0281a"/>
<circle cx="125.80" cy="737.30" r="1.35" fill="#d0281a"/>
<circle cx="128.60" cy="736.60" r="1.35" fill="#d0281a"/>
<circle cx="131.30" cy="737.30" r="1.35" fill="#d0281a"/>
<circle cx="142.60" cy="637.40" r="1.35" fill="#e08420"/>
<circle cx="146.00" cy="637.40" r="1.35" fill="#e08420"/>
<circle cx="149.40" cy="637.60" r="1.35" fill="#e08420"/>
<circle cx="152.90" cy="638.00" r="1.35" fill="#e08420"/>
<circle cx="156.30" cy="639.00" r="1.35" fill="#e08420"/>
<circle cx="149.40" cy="643.00" r="1.35" fill="#e08420"/>
<circle cx="152.90" cy="643.00" r="1.35" fill="#e08420"/>
<circle cx="146.00" cy="647.60" r="1.35" fill="#e08420"/>
<circle cx="152.90" cy="647.60" r="1.35" fill="#e08420"/>
<circle cx="146.00" cy="653.40" r="1.35" fill="#e08420"/>
<circle cx="149.40" cy="656.00" r="1.35" fill="#e08420"/>
<circle cx="152.90" cy="655.40" r="1.35" fill="#e08420"/>
<circle cx="149.40" cy="666.50" r="1.35" fill="#e08420"/>
<circle cx="149.40" cy="669.20" r="1.35" fill="#e08420"/>
<circle cx="149.40" cy="674.00" r="1.35" fill="#e08420"/>
<circle cx="146.00" cy="676.80" r="1.35" fill="#e08420"/>
<circle cx="152.90" cy="675.40" r="1.35" fill="#e08420"/>
<circle cx="149.40" cy="685.70" r="1.35" fill="#e08420"/>
<circle cx="146.00" cy="691.20" r="1.35" fill="#e08420"/>
<circle cx="149.40" cy="693.00" r="1.35" fill="#e08420"/>
<circle cx="146.00" cy="698.00" r="1.35" fill="#e08420"/>
<circle cx="152.90" cy="699.50" r="1.35" fill="#e08420"/>
<circle cx="149.40" cy="707.00" r="1.35" fill="#e08420"/>
<circle cx="146.00" cy="718.00" r="1.35" fill="#e08420"/>
<circle cx="152.90" cy="720.00" r="1.35" fill="#e08420"/>
<circle cx="149.40" cy="726.30" r="1.35" fill="#e08420"/>
<circle cx="171.77" cy="633.60" r="1.35" fill="#14883a"/>
<circle cx="177.79" cy="633.60" r="1.35" fill="#14883a"/>
<circle cx="169.52" cy="635.10" r="1.35" fill="#14883a"/>
<circle cx="173.28" cy="635.10" r="1.35" fill="#14883a"/>
<circle cx="175.53" cy="635.10" r="1.35" fill="#14883a"/>
<circle cx="179.29" cy="635.10" r="1.35" fill="#14883a"/>
<circle cx="167.26" cy="637.00" r="1.35" fill="#14883a"/>
<circle cx="171.02" cy="637.00" r="1.35" fill="#14883a"/>
<circle cx="177.04" cy="637.00" r="1.35" fill="#14883a"/>
<circle cx="180.80" cy="637.00" r="1.35" fill="#14883a"/>
<circle cx="167.26" cy="638.90" r="1.35" fill="#14883a"/>
<circle cx="169.52" cy="638.90" r="1.35" fill="#14883a"/>
<circle cx="174.03" cy="638.90" r="1.35" fill="#14883a"/>
<circle cx="179.29" cy="638.90" r="1.35" fill="#14883a"/>
<circle cx="181.92" cy="638.90" r="1.35" fill="#14883a"/>
<circle cx="171.77" cy="641.50" r="1.35" fill="#14883a"/>
<circle cx="177.04" cy="641.50" r="1.35" fill="#14883a"/>
<circle cx="168.77" cy="643.80" r="1.35" fill="#14883a"/>
<circle cx="171.77" cy="643.80" r="1.35" fill="#14883a"/>
<circle cx="175.16" cy="643.80" r="1.35" fill="#14883a"/>
<circle cx="179.29" cy="643.80" r="1.35" fill="#14883a"/>
<circle cx="167.26" cy="646.00" r="1.35" fill="#14883a"/>
<circle cx="170.27" cy="646.00" r="1.35" fill="#14883a"/>
<circle cx="173.28" cy="646.00" r="1.35" fill="#14883a"/>
<circle cx="177.04" cy="646.00" r="1.35" fill="#14883a"/>
<circle cx="181.55" cy="646.00" r="1.35" fill="#14883a"/>
<circle cx="168.77" cy="648.00" r="1.35" fill="#14883a"/>
<circle cx="173.28" cy="648.00" r="1.35" fill="#14883a"/>
<circle cx="175.53" cy="648.00" r="1.35" fill="#14883a"/>
<circle cx="173.28" cy="650.20" r="1.35" fill="#14883a"/>
<circle cx="177.79" cy="650.20" r="1.35" fill="#14883a"/>
<circle cx="174.03" cy="654.70" r="1.35" fill="#14883a"/>
<circle cx="175.53" cy="656.60" r="1.35" fill="#14883a"/>
<circle cx="171.77" cy="658.50" r="1.35" fill="#14883a"/>
<circle cx="175.91" cy="658.50" r="1.35" fill="#14883a"/>
<circle cx="171.02" cy="660.00" r="1.35" fill="#14883a"/>
<circle cx="167.64" cy="661.80" r="1.35" fill="#14883a"/>
<circle cx="175.53" cy="661.80" r="1.35" fill="#14883a"/>
<circle cx="180.05" cy="663.30" r="1.35" fill="#14883a"/>
<circle cx="168.02" cy="664.80" r="1.35" fill="#14883a"/>
<circle cx="171.77" cy="664.80" r="1.35" fill="#14883a"/>
<circle cx="174.78" cy="664.80" r="1.35" fill="#14883a"/>
<circle cx="178.54" cy="664.80" r="1.35" fill="#14883a"/>
<circle cx="181.92" cy="664.80" r="1.35" fill="#14883a"/>
<circle cx="167.64" cy="667.10" r="1.35" fill="#14883a"/>
<circle cx="173.28" cy="667.10" r="1.35" fill="#14883a"/>
<circle cx="177.04" cy="667.10" r="1.35" fill="#14883a"/>
<circle cx="171.02" cy="669.00" r="1.35" fill="#14883a"/>
<circle cx="174.03" cy="669.00" r="1.35" fill="#14883a"/>
<circle cx="173.28" cy="671.20" r="1.35" fill="#14883a"/>
<circle cx="177.79" cy="671.20" r="1.35" fill="#14883a"/>
<circle cx="175.16" cy="676.10" r="1.35" fill="#14883a"/>
<circle cx="173.28" cy="678.00" r="1.35" fill="#14883a"/>
<circle cx="177.04" cy="678.00" r="1.35" fill="#14883a"/>
<circle cx="175.16" cy="679.90" r="1.35" fill="#14883a"/>
<circle cx="177.79" cy="679.90" r="1.35" fill="#14883a"/>
<circle cx="171.77" cy="682.10" r="1.35" fill="#14883a"/>
<circle cx="176.29" cy="682.10" r="1.35" fill="#14883a"/>
<circle cx="173.28" cy="684.00" r="1.35" fill="#14883a"/>
<circle cx="177.79" cy="684.00" r="1.35" fill="#14883a"/>
<circle cx="171.77" cy="686.30" r="1.35" fill="#14883a"/>
<circle cx="175.53" cy="686.30" r="1.35" fill="#14883a"/>
<circle cx="174.03" cy="687.50" r="1.35" fill="#14883a"/>
<circle cx="173.28" cy="691.10" r="1.35" fill="#14883a"/>
<circle cx="175.53" cy="691.10" r="1.35" fill="#14883a"/>
<circle cx="175.53" cy="693.40" r="1.35" fill="#14883a"/>
<circle cx="175.53" cy="696.00" r="1.35" fill="#14883a"/>
<circle cx="175.53" cy="698.70" r="1.35" fill="#14883a"/>
<circle cx="171.02" cy="702.00" r="1.35" fill="#14883a"/>
<circle cx="173.28" cy="702.00" r="1.35" fill="#14883a"/>
<circle cx="175.53" cy="704.00" r="1.35" fill="#14883a"/>
<circle cx="170.27" cy="717.10" r="1.35" fill="#14883a"/>
<circle cx="172.53" cy="717.10" r="1.35" fill="#14883a"/>
<circle cx="174.78" cy="717.10" r="1.35" fill="#14883a"/>
<circle cx="177.04" cy="717.10" r="1.35" fill="#14883a"/>
<circle cx="179.29" cy="717.10" r="1.35" fill="#14883a"/>
<circle cx="173.28" cy="721.60" r="1.35" fill="#14883a"/>
<circle cx="175.53" cy="723.50" r="1.35" fill="#14883a"/>
<circle cx="171.02" cy="728.70" r="1.35" fill="#14883a"/>
<circle cx="173.28" cy="731.00" r="1.35" fill="#14883a"/>
<circle cx="177.04" cy="731.00" r="1.35" fill="#14883a"/>
<circle cx="171.02" cy="732.90" r="1.35" fill="#14883a"/>
<circle cx="174.41" cy="732.90" r="1.35" fill="#14883a"/>
<circle cx="173.28" cy="735.90" r="1.35" fill="#14883a"/>
<circle cx="177.04" cy="735.90" r="1.35" fill="#14883a"/>
<circle cx="171.77" cy="737.20" r="1.35" fill="#14883a"/>
<circle cx="174.41" cy="737.20" r="1.35" fill="#14883a"/>
<circle cx="178.17" cy="737.20" r="1.35" fill="#14883a"/>
<circle cx="194.40" cy="635.50" r="1.35" fill="#5a2462"/>
<circle cx="199.90" cy="634.40" r="1.35" fill="#5a2462"/>
<circle cx="205.40" cy="634.40" r="1.35" fill="#5a2462"/>
<circle cx="199.90" cy="643.50" r="1.35" fill="#5a2462"/>
<circle cx="199.90" cy="646.50" r="1.35" fill="#5a2462"/>
<circle cx="199.90" cy="673.30" r="1.35" fill="#5a2462"/>
<circle cx="199.90" cy="690.50" r="1.35" fill="#5a2462"/>
<circle cx="199.90" cy="697.10" r="1.35" fill="#5a2462"/>
<circle cx="199.90" cy="707.30" r="1.35" fill="#5a2462"/>
<circle cx="199.90" cy="726.30" r="1.35" fill="#5a2462"/>
<circle cx="227.40" cy="652.30" r="1.35" fill="#1898bc"/>
<circle cx="222.10" cy="658.60" r="1.35" fill="#1898bc"/>
<circle cx="227.40" cy="656.80" r="1.35" fill="#1898bc"/>
<circle cx="222.10" cy="671.00" r="1.35" fill="#1898bc"/>
<circle cx="227.40" cy="669.90" r="1.35" fill="#1898bc"/>
<circle cx="227.40" cy="677.50" r="1.35" fill="#1898bc"/>
<circle cx="227.40" cy="692.20" r="1.35" fill="#1898bc"/>
<circle cx="227.40" cy="697.70" r="1.35" fill="#1898bc"/>
<circle cx="222.10" cy="702.90" r="1.35" fill="#1898bc"/>
<circle cx="224.90" cy="704.30" r="1.35" fill="#1898bc"/>
<circle cx="222.10" cy="709.50" r="1.35" fill="#1898bc"/>
<circle cx="224.90" cy="710.00" r="1.35" fill="#1898bc"/>
<circle cx="222.10" cy="712.50" r="1.35" fill="#1898bc"/>
<circle cx="227.40" cy="712.30" r="1.35" fill="#1898bc"/>
<circle cx="222.10" cy="716.40" r="1.35" fill="#1898bc"/>
<circle cx="227.40" cy="716.90" r="1.35" fill="#1898bc"/>
<circle cx="231.80" cy="717.80" r="1.35" fill="#1898bc"/>
<circle cx="218.00" cy="721.50" r="1.35" fill="#1898bc"/>
<circle cx="222.10" cy="720.80" r="1.35" fill="#1898bc"/>
<circle cx="227.40" cy="720.50" r="1.35" fill="#1898bc"/>
<circle cx="231.80" cy="721.10" r="1.35" fill="#1898bc"/>
<circle cx="222.10" cy="724.20" r="1.35" fill="#1898bc"/>
<circle cx="227.40" cy="725.20" r="1.35" fill="#1898bc"/>
<circle cx="222.10" cy="727.00" r="1.35" fill="#1898bc"/>
<circle cx="218.00" cy="732.50" r="1.35" fill="#1898bc"/>
<circle cx="222.10" cy="732.10" r="1.35" fill="#1898bc"/>
<circle cx="227.40" cy="731.10" r="1.35" fill="#1898bc"/>
<circle cx="227.40" cy="734.50" r="1.35" fill="#1898bc"/>
<circle cx="231.80" cy="733.20" r="1.35" fill="#1898bc"/>
<circle cx="218.00" cy="735.20" r="1.35" fill="#1898bc"/>
<line x1="116.30" y1="701.50" x2="132.30" y2="701.50" stroke="#d83018" stroke-width="1.1"/>
<line x1="124.50" y1="704.97" x2="124.50" y2="698.11" stroke="#d83018" stroke-width="1.0"/>
<line x1="120.30" y1="698.50" x2="128.30" y2="698.50" stroke="#d83018" stroke-width="1.0"/>
<line x1="120.30" y1="704.50" x2="128.30" y2="704.50" stroke="#d83018" stroke-width="1.0"/>
<line x1="124.50" y1="737.70" x2="124.50" y2="740.90" stroke="#1a1a1a" stroke-width="1"/>
<line x1="141.30" y1="670.50" x2="157.30" y2="670.50" stroke="#ea8a16" stroke-width="1.1"/>
<line x1="149.50" y1="676.92" x2="149.50" y2="664.45" stroke="#ea8a16" stroke-width="1.0"/>
<line x1="145.30" y1="664.50" x2="153.30" y2="664.50" stroke="#ea8a16" stroke-width="1.0"/>
<line x1="145.30" y1="676.50" x2="153.30" y2="676.50" stroke="#ea8a16" stroke-width="1.0"/>
<line x1="149.50" y1="737.70" x2="149.50" y2="740.90" stroke="#1a1a1a" stroke-width="1"/>
<line x1="166.40" y1="673.50" x2="182.40" y2="673.50" stroke="#24402c" stroke-width="1.1"/>
<line x1="174.50" y1="737.70" x2="174.50" y2="740.90" stroke="#1a1a1a" stroke-width="1"/>
<line x1="191.50" y1="668.50" x2="207.50" y2="668.50" stroke="#9a5080" stroke-width="1.1"/>
<line x1="199.50" y1="679.62" x2="199.50" y2="657.80" stroke="#9a5080" stroke-width="1.0"/>
<line x1="195.50" y1="657.50" x2="203.50" y2="657.50" stroke="#9a5080" stroke-width="1.0"/>
<line x1="195.50" y1="679.50" x2="203.50" y2="679.50" stroke="#9a5080" stroke-width="1.0"/>
<line x1="199.50" y1="737.70" x2="199.50" y2="740.90" stroke="#1a1a1a" stroke-width="1"/>
<line x1="216.60" y1="706.50" x2="232.60" y2="706.50" stroke="#1ea6cc" stroke-width="1.1"/>
<line x1="224.50" y1="712.14" x2="224.50" y2="701.75" stroke="#1ea6cc" stroke-width="1.0"/>
<line x1="220.60" y1="701.50" x2="228.60" y2="701.50" stroke="#1ea6cc" stroke-width="1.0"/>
<line x1="220.60" y1="712.50" x2="228.60" y2="712.50" stroke="#1ea6cc" stroke-width="1.0"/>
<line x1="224.50" y1="737.70" x2="224.50" y2="740.90" stroke="#1a1a1a" stroke-width="1"/>
<text x="0" y="0" font-size="7.6" text-anchor="end" fill="#222222" stroke="#222222" stroke-width="0.2" transform="translate(124.00 747.50) rotate(-45) scale(0.95 1)">ETP (n = 59)</text>
<text x="0" y="0" font-size="7.6" text-anchor="end" fill="#222222" stroke="#222222" stroke-width="0.2" transform="translate(149.00 747.50) rotate(-45) scale(0.95 1)">Immature (n = 24)</text>
<text x="0" y="0" font-size="7.6" text-anchor="end" fill="#222222" stroke="#222222" stroke-width="0.2" transform="translate(174.10 747.50) rotate(-45) scale(0.95 1)">Cortical (n = 79)</text>
<text x="0" y="0" font-size="7.6" text-anchor="end" fill="#222222" stroke="#222222" stroke-width="0.2" transform="translate(199.20 747.50) rotate(-45) scale(0.95 1)">TCR&#947;&#948; (n = 10)</text>
<text x="0" y="0" font-size="7.6" text-anchor="end" fill="#222222" stroke="#222222" stroke-width="0.2" transform="translate(224.30 747.50) rotate(-45) scale(0.95 1)">TCR&#945;&#946; (n = 26)</text>
<text x="0" y="0" font-size="8.7" text-anchor="start" fill="#222222" stroke="#222222" stroke-width="0.318" transform="translate(75.50 702.50) rotate(-90) scale(0.7649 1)">IL7R/CD127</text>
<text x="0" y="0" font-size="8.7" text-anchor="start" fill="#222222" stroke="#222222" stroke-width="0.309" transform="translate(86.50 719.30) rotate(-90) scale(0.7821 1)">(% Surface expression)</text>
<line x1="287.50" y1="622.30" x2="287.50" y2="738.30" stroke="#1a1a1a" stroke-width="1.1"/>
<line x1="287.00" y1="737.50" x2="414.00" y2="737.50" stroke="#1a1a1a" stroke-width="1.1"/>
<line x1="284.30" y1="737.50" x2="287.50" y2="737.50" stroke="#1a1a1a" stroke-width="1"/>
<text x="0" y="0" font-size="7.7" text-anchor="end" fill="#222222" stroke="#222222" stroke-width="0.2" transform="translate(281.80 740.30) scale(0.97 1)">0</text>
<line x1="285.90" y1="726.50" x2="287.50" y2="726.50" stroke="#1a1a1a" stroke-width="0.8"/>
<line x1="284.30" y1="715.50" x2="287.50" y2="715.50" stroke="#1a1a1a" stroke-width="1"/>
<text x="0" y="0" font-size="7.7" text-anchor="end" fill="#222222" stroke="#222222" stroke-width="0.2" transform="translate(281.80 717.67) scale(0.97 1)">20</text>
<line x1="285.90" y1="703.50" x2="287.50" y2="703.50" stroke="#1a1a1a" stroke-width="0.8"/>
<line x1="284.30" y1="692.50" x2="287.50" y2="692.50" stroke="#1a1a1a" stroke-width="1"/>
<text x="0" y="0" font-size="7.7" text-anchor="end" fill="#222222" stroke="#222222" stroke-width="0.2" transform="translate(281.80 695.04) scale(0.97 1)">40</text>
<line x1="285.90" y1="681.50" x2="287.50" y2="681.50" stroke="#1a1a1a" stroke-width="0.8"/>
<line x1="284.30" y1="669.50" x2="287.50" y2="669.50" stroke="#1a1a1a" stroke-width="1"/>
<text x="0" y="0" font-size="7.7" text-anchor="end" fill="#222222" stroke="#222222" stroke-width="0.2" transform="translate(281.80 672.41) scale(0.97 1)">60</text>
<line x1="285.90" y1="658.50" x2="287.50" y2="658.50" stroke="#1a1a1a" stroke-width="0.8"/>
<line x1="284.30" y1="647.50" x2="287.50" y2="647.50" stroke="#1a1a1a" stroke-width="1"/>
<text x="0" y="0" font-size="7.7" text-anchor="end" fill="#222222" stroke="#222222" stroke-width="0.2" transform="translate(281.80 649.78) scale(0.97 1)">80</text>
<line x1="285.90" y1="635.50" x2="287.50" y2="635.50" stroke="#1a1a1a" stroke-width="0.8"/>
<line x1="284.30" y1="624.50" x2="287.50" y2="624.50" stroke="#1a1a1a" stroke-width="1"/>
<text x="0" y="0" font-size="7.7" text-anchor="end" fill="#222222" stroke="#222222" stroke-width="0.2" transform="translate(281.80 627.15) scale(0.97 1)">100</text>
<rect x="294.60" y="624.65" width="11.80" height="42.43" fill="url(#chk0)"/>
<rect x="294.60" y="667.08" width="11.80" height="70.72" fill="#e23814"/>
<line x1="300.50" y1="737.80" x2="300.50" y2="741.00" stroke="#1a1a1a" stroke-width="1"/>
<rect x="320.00" y="624.65" width="11.80" height="15.28" fill="url(#chk1)"/>
<rect x="320.00" y="639.93" width="11.80" height="97.87" fill="#f0820a"/>
<line x1="325.50" y1="737.80" x2="325.50" y2="741.00" stroke="#1a1a1a" stroke-width="1"/>
<rect x="345.20" y="624.65" width="11.80" height="21.50" fill="url(#chk2)"/>
<rect x="345.20" y="646.15" width="11.80" height="91.65" fill="#14963c"/>
<line x1="351.50" y1="737.80" x2="351.50" y2="741.00" stroke="#1a1a1a" stroke-width="1"/>
<rect x="370.40" y="624.65" width="11.80" height="11.54" fill="url(#chk3)"/>
<rect x="370.40" y="636.19" width="11.80" height="101.61" fill="#87328c"/>
<line x1="376.50" y1="737.80" x2="376.50" y2="741.00" stroke="#1a1a1a" stroke-width="1"/>
<rect x="395.50" y="624.65" width="11.80" height="61.67" fill="url(#chk4)"/>
<rect x="395.50" y="686.32" width="11.80" height="51.48" fill="#14aad2"/>
<line x1="401.50" y1="737.80" x2="401.50" y2="741.00" stroke="#1a1a1a" stroke-width="1"/>
<line x1="294.60" y1="622.50" x2="408.00" y2="622.50" stroke="#222" stroke-width="1.1"/>
<circle cx="346.1" cy="618.5" r="1.1" fill="#222"/>
<circle cx="349.5" cy="618.5" r="1.1" fill="#222"/>
<circle cx="352.9" cy="618.5" r="1.1" fill="#222"/>
<circle cx="356.3" cy="618.5" r="1.1" fill="#222"/>
<text x="0" y="0" font-size="7.6" text-anchor="end" fill="#222222" stroke="#222222" stroke-width="0.2" transform="translate(300.20 747.60) rotate(-45) scale(0.95 1)">ETP (n = 59)</text>
<text x="0" y="0" font-size="7.6" text-anchor="end" fill="#222222" stroke="#222222" stroke-width="0.2" transform="translate(325.60 747.60) rotate(-45) scale(0.95 1)">Immature (n = 24)</text>
<text x="0" y="0" font-size="7.6" text-anchor="end" fill="#222222" stroke="#222222" stroke-width="0.2" transform="translate(350.80 747.60) rotate(-45) scale(0.95 1)">Cortical (n = 79)</text>
<text x="0" y="0" font-size="7.6" text-anchor="end" fill="#222222" stroke="#222222" stroke-width="0.2" transform="translate(376.00 747.60) rotate(-45) scale(0.95 1)">TCR&#947;&#948; (n = 10)</text>
<text x="0" y="0" font-size="7.6" text-anchor="end" fill="#222222" stroke="#222222" stroke-width="0.2" transform="translate(401.10 747.60) rotate(-45) scale(0.95 1)">TCR&#945;&#946; (n = 26)</text>
<text x="0" y="0" font-size="8.6" text-anchor="start" fill="#222222" stroke="#222222" stroke-width="0.313" transform="translate(262.70 709.70) rotate(-90) scale(0.7731 1)">T-ALL frequency (%)</text>
<rect x="417.80" y="671.40" width="6.30" height="6.20" fill="#111"/>
<rect x="417.80" y="681.80" width="6.30" height="6.60" fill="url(#chkk)"/>
<text x="0" y="0" font-size="6.6" text-anchor="start" fill="#222222" stroke="#222222" stroke-width="0.2" transform="translate(428.20 677.20)">sIL7R+</text>
<text x="0" y="0" font-size="6.6" text-anchor="start" fill="#222222" stroke="#222222" stroke-width="0.2" transform="translate(428.20 687.60)">sIL7R&#8211;/low</text>
<rect x="0.5" y="0.5" width="519" height="798" fill="none" stroke="#454545" stroke-width="1"/>
</svg>
</body></html>
